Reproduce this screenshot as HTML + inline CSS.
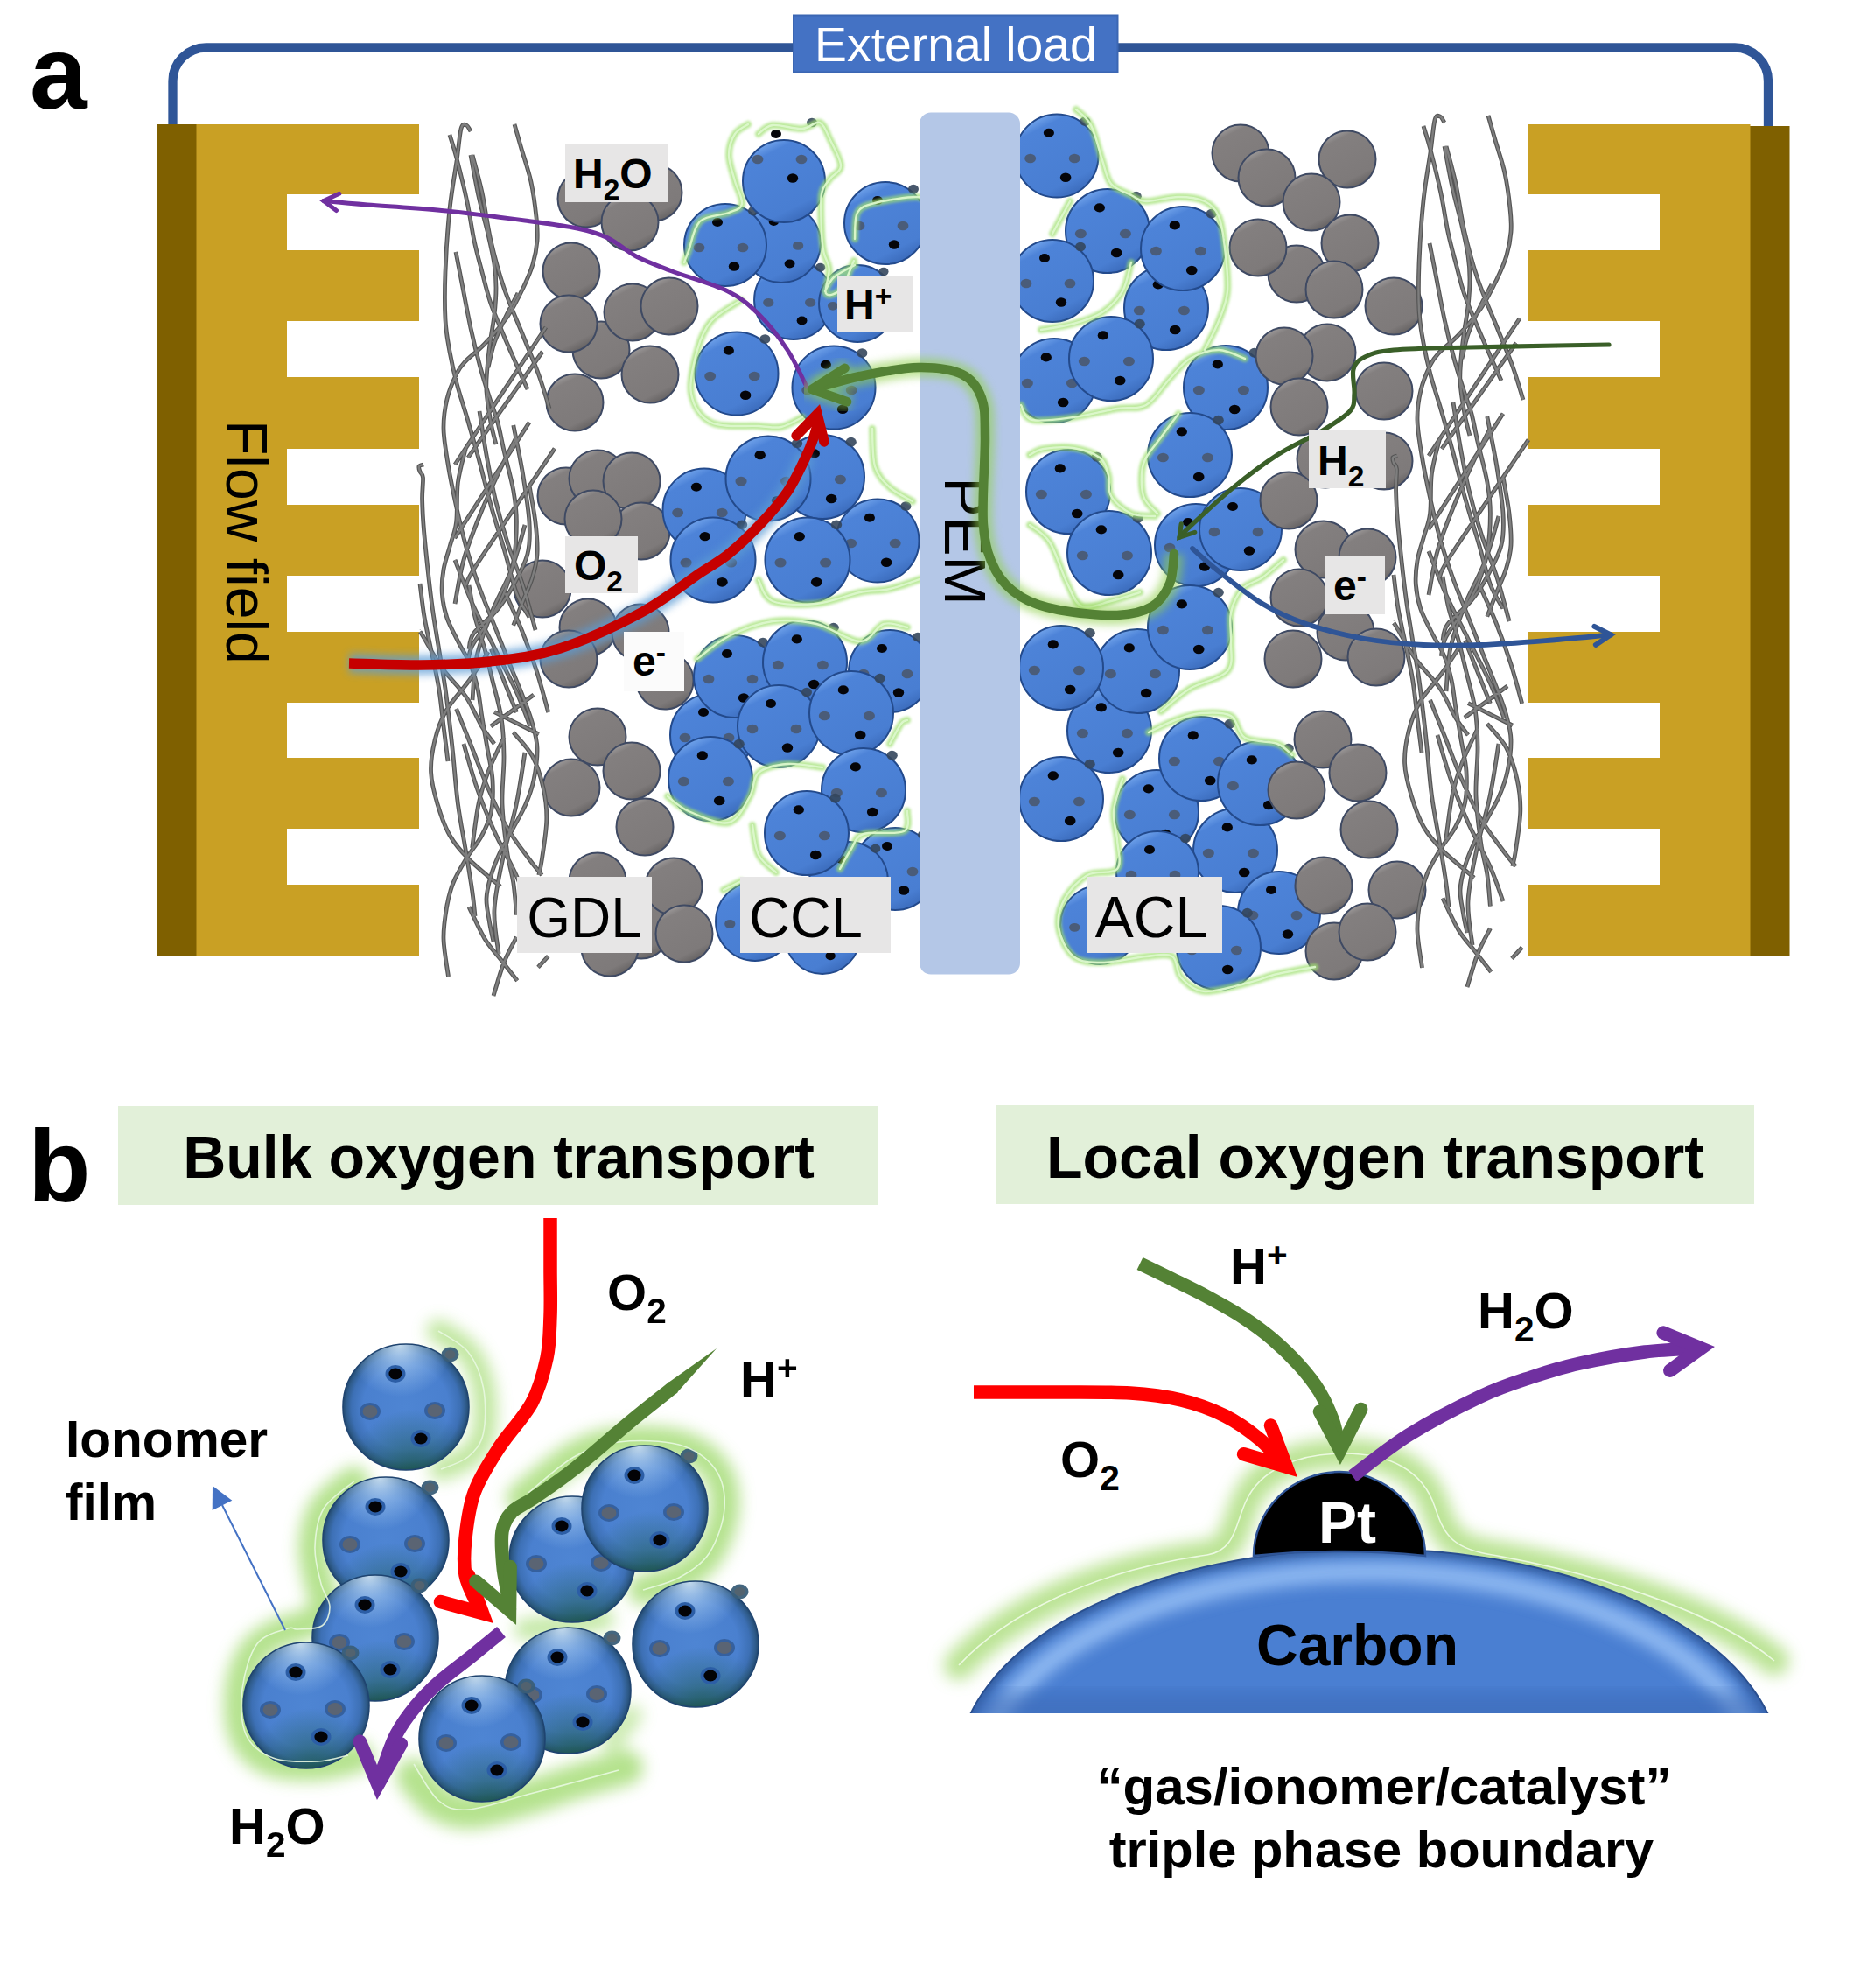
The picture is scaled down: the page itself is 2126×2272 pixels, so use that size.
<!DOCTYPE html>
<html lang="en"><head><meta charset="utf-8"><title>PEM fuel cell schematic</title>
<style>html,body{margin:0;padding:0;background:#fff}body{width:2126px;height:2272px;overflow:hidden}svg{display:block}</style>
</head><body>
<svg width="2126" height="2272" viewBox="0 0 2126 2272">
<defs>
<linearGradient id="gb" x1="0.25" y1="0" x2="0.75" y2="1">
<stop offset="0" stop-color="#7fb0f2"/><stop offset="0.16" stop-color="#4d83d8"/><stop offset="0.8" stop-color="#497ed2"/><stop offset="1" stop-color="#3766b5"/>
</linearGradient>
<linearGradient id="gg" x1="0.25" y1="0" x2="0.75" y2="1">
<stop offset="0" stop-color="#a8a5a5"/><stop offset="0.16" stop-color="#837f7f"/><stop offset="0.8" stop-color="#7e7a7a"/><stop offset="1" stop-color="#5e5b5b"/>
</linearGradient>
<radialGradient id="gs" cx="0.5" cy="0.5" r="0.5">
<stop offset="0" stop-color="#4e85d3"/><stop offset="0.68" stop-color="#4a80cf"/><stop offset="0.86" stop-color="#3d70b5"/><stop offset="0.95" stop-color="#2f5c8c"/><stop offset="1" stop-color="#234a70"/>
</radialGradient>
<radialGradient id="gsh" cx="0.45" cy="0.0" r="0.42">
<stop offset="0" stop-color="#d8ecfc" stop-opacity="0.9"/><stop offset="0.45" stop-color="#b4d6f6" stop-opacity="0.5"/><stop offset="1" stop-color="#a8d0f8" stop-opacity="0"/>
</radialGradient>
<radialGradient id="gsd" cx="0.55" cy="1.02" r="0.5">
<stop offset="0" stop-color="#1d5a48" stop-opacity="0.75"/><stop offset="0.5" stop-color="#1d5a48" stop-opacity="0.35"/><stop offset="1" stop-color="#1d5a48" stop-opacity="0"/>
</radialGradient>
<linearGradient id="gcarb" x1="0" y1="0" x2="0" y2="1">
<stop offset="0" stop-color="#7fb0f0"/><stop offset="0.12" stop-color="#5a8fdf"/><stop offset="0.3" stop-color="#4a7fd4"/><stop offset="1" stop-color="#4878cc"/>
</linearGradient>
<filter id="bl2" x="-20%" y="-20%" width="140%" height="140%"><feGaussianBlur stdDeviation="1.8"/></filter>
<filter id="bl3" x="-20%" y="-20%" width="140%" height="140%"><feGaussianBlur stdDeviation="3"/></filter>
<filter id="bl5" x="-20%" y="-20%" width="140%" height="140%"><feGaussianBlur stdDeviation="5"/></filter>
<filter id="bl9" x="-20%" y="-20%" width="140%" height="140%"><feGaussianBlur stdDeviation="9"/></filter>
<filter id="bl14" x="-20%" y="-20%" width="140%" height="140%"><feGaussianBlur stdDeviation="13"/></filter>
<g id="sbn">
<circle r="47" fill="url(#gb)" stroke="#234a8c" stroke-width="2"/>
</g>
<g id="sbd">
<ellipse cx="-9" cy="-26" rx="6" ry="5" fill="#050509"/>
<ellipse cx="10" cy="24.5" rx="6.2" ry="5.2" fill="#050509"/>
<ellipse cx="-30" cy="3" rx="6.4" ry="5.2" fill="#4a5668" fill-opacity="0.85"/>
<ellipse cx="20" cy="3" rx="6.4" ry="5.2" fill="#4a5668" fill-opacity="0.85"/>
<ellipse cx="32" cy="-39" rx="6" ry="5.2" fill="#34465c" fill-opacity="0.9"/>
</g>
<g id="sb"><use href="#sbn"/><use href="#sbd"/></g>
<g id="sg">
<circle r="32.5" fill="url(#gg)" stroke="#3f4a63" stroke-width="2"/>
</g>
<g id="ss">
<circle r="72" fill="url(#gs)"/>
<circle r="72" fill="url(#gsd)"/>
<circle r="72" fill="url(#gsh)" stroke="#1f4470" stroke-width="1.6"/>
<ellipse cx="-12" cy="-38" rx="11.5" ry="10" fill="#2c5ea6"/>
<ellipse cx="-12" cy="-38" rx="7.6" ry="6.4" fill="#030306"/>
<ellipse cx="17" cy="36" rx="11.5" ry="10" fill="#2c5ea6"/>
<ellipse cx="17" cy="36" rx="7.6" ry="6.4" fill="#030306"/>
<ellipse cx="-41" cy="5" rx="12" ry="10" fill="#35609e"/>
<ellipse cx="-41" cy="5" rx="8.5" ry="7" fill="#5a6473"/>
<ellipse cx="33" cy="4" rx="12" ry="10" fill="#35609e"/>
<ellipse cx="33" cy="4" rx="8.5" ry="7" fill="#5a6473"/>
<ellipse cx="50.5" cy="-60" rx="10" ry="8.5" fill="#3a5e78" fill-opacity="0.95"/>
<ellipse cx="50.5" cy="-60" rx="6" ry="5" fill="#55636e" fill-opacity="0.9"/>
</g>
</defs>
<path d="M197.5,146V92.5a38,38 0 0 1 38,-38H1983a38,38 0 0 1 38,38V146" fill="none" stroke="#2f5597" stroke-width="10.3"/>
<rect x="907" y="17.5" width="370.5" height="65" fill="#4472c4" stroke="#3b66b3" stroke-width="2"/>
<text x="1092.5" y="70" font-size="55.3" fill="#fff" text-anchor="middle" font-family="Liberation Sans, Arial, sans-serif">External load</text>
<rect x="179" y="142" width="46" height="950" fill="#7f6000"/>
<rect x="224.5" y="142" width="254.5" height="950" fill="#c9a024"/>
<rect x="328" y="222" width="152" height="64" fill="#fff"/>
<rect x="328" y="367" width="152" height="64" fill="#fff"/>
<rect x="328" y="513" width="152" height="64" fill="#fff"/>
<rect x="328" y="658" width="152" height="64" fill="#fff"/>
<rect x="328" y="803" width="152" height="63" fill="#fff"/>
<rect x="328" y="947" width="152" height="64" fill="#fff"/>
<rect x="2000" y="144" width="45.5" height="948" fill="#7f6000"/>
<rect x="1746" y="142" width="254.5" height="950" fill="#c9a024"/>
<rect x="1745" y="222" width="152" height="64" fill="#fff"/>
<rect x="1745" y="367" width="152" height="64" fill="#fff"/>
<rect x="1745" y="513" width="152" height="64" fill="#fff"/>
<rect x="1745" y="658" width="152" height="64" fill="#fff"/>
<rect x="1745" y="803" width="152" height="63" fill="#fff"/>
<rect x="1745" y="947" width="152" height="64" fill="#fff"/>
<text transform="translate(259,480) rotate(90)" font-size="66" fill="#000" font-family="Liberation Sans, Arial, sans-serif">Flow field</text>
<use href="#sg" x="747.0" y="220.0"/>
<use href="#sg" x="670.0" y="227.0"/>
<use href="#sg" x="720.0" y="254.0"/>
<use href="#sg" x="653.0" y="310.0"/>
<use href="#sg" x="687.0" y="400.0"/>
<use href="#sg" x="723.0" y="357.0"/>
<use href="#sg" x="765.0" y="350.0"/>
<use href="#sg" x="650.0" y="370.0"/>
<use href="#sg" x="743.0" y="428.0"/>
<use href="#sg" x="657.0" y="460.0"/>
<use href="#sg" x="647.0" y="567.0"/>
<use href="#sg" x="683.0" y="547.0"/>
<use href="#sg" x="722.0" y="550.0"/>
<use href="#sg" x="733.0" y="607.0"/>
<use href="#sg" x="678.0" y="593.0"/>
<use href="#sg" x="620.0" y="673.0"/>
<use href="#sg" x="672.0" y="717.0"/>
<use href="#sg" x="732.0" y="723.0"/>
<use href="#sg" x="650.0" y="753.0"/>
<use href="#sg" x="760.0" y="778.0"/>
<use href="#sg" x="683.0" y="842.0"/>
<use href="#sg" x="653.0" y="900.0"/>
<use href="#sg" x="722.0" y="881.0"/>
<use href="#sg" x="737.0" y="945.0"/>
<use href="#sg" x="683.0" y="1007.0"/>
<use href="#sg" x="733.0" y="1063.0"/>
<use href="#sg" x="697.0" y="1083.0"/>
<use href="#sg" x="770.0" y="1013.0"/>
<use href="#sg" x="782.0" y="1067.0"/>
<g transform="translate(0,0)" fill="none" stroke-linecap="butt">
<path d="M514.0,154.0C515.3,158.5 518.7,168.2 522.0,181.0C525.3,193.8 530.7,215.3 534.0,231.0C537.3,246.7 539.2,261.7 542.0,275.0C544.8,288.3 547.8,299.0 551.0,311.0C554.2,323.0 556.8,334.8 561.0,347.0C565.2,359.2 571.2,372.5 576.0,384.0C580.8,395.5 585.5,405.8 590.0,416.0C594.5,426.2 600.8,440.2 603.0,445.0M538.0,150.0C537.2,148.8 534.8,143.5 533.0,143.0C531.2,142.5 528.8,140.2 527.0,147.0C525.2,153.8 524.2,168.7 522.0,184.0C519.8,199.3 516.2,217.8 514.0,239.0C511.8,260.2 509.8,290.0 509.0,311.0C508.2,332.0 508.2,349.8 509.0,365.0C509.8,380.2 511.8,389.8 514.0,402.0C516.2,414.2 518.7,425.3 522.0,438.0C525.3,450.7 529.8,463.7 534.0,478.0C538.2,492.3 542.4,507.2 547.0,524.0C551.6,540.8 556.3,560.5 561.4,578.7C566.5,596.9 572.9,616.5 577.7,633.0C582.5,649.5 585.9,665.9 590.4,678.0C594.9,690.1 602.6,700.9 605.0,705.5M538.0,177.0C539.5,184.8 543.7,208.8 547.0,224.0C550.3,239.2 555.0,255.0 558.0,268.0C561.0,281.0 563.5,291.8 565.0,302.0C566.5,312.2 567.0,319.3 567.0,329.0C567.0,338.7 566.2,349.3 565.0,360.0C563.8,370.7 561.3,383.0 560.0,393.0C558.7,403.0 557.7,411.0 557.0,420.0C556.3,429.0 555.3,436.5 556.0,447.0C556.7,457.5 559.2,472.8 561.0,483.0C562.8,493.2 566.0,503.8 567.0,508.0M540.0,177.0C541.8,184.2 547.5,203.7 551.0,220.0C554.5,236.3 556.8,256.8 561.0,275.0C565.2,293.2 569.8,310.8 576.0,329.0C582.2,347.2 591.3,367.3 598.0,384.0C604.7,400.7 611.0,415.2 616.0,429.0C621.0,442.8 626.0,460.7 628.0,467.0M588.0,142.0C589.3,146.7 592.8,159.0 596.0,170.0C599.2,181.0 604.2,195.0 607.0,208.0C609.8,221.0 611.8,236.8 613.0,248.0C614.2,259.2 614.7,266.0 614.0,275.0C613.3,284.0 611.7,293.0 609.0,302.0C606.3,311.0 602.8,319.0 598.0,329.0C593.2,339.0 587.3,351.3 580.0,362.0C572.7,372.7 562.0,384.5 554.0,393.0C546.0,401.5 537.3,407.3 532.0,413.0C526.7,418.7 525.5,419.8 522.0,427.0C518.5,434.2 513.5,445.5 511.0,456.0C508.5,466.5 506.8,477.2 507.0,490.0C507.2,502.8 510.1,518.2 512.5,533.0C514.9,547.8 518.3,563.8 521.6,579.0C524.9,594.2 528.3,609.0 532.5,624.0C536.7,639.0 541.6,653.9 547.0,669.0C552.4,684.1 559.0,699.4 565.0,714.6C571.0,729.8 577.5,746.4 583.0,760.0C588.5,773.6 593.5,785.2 597.7,796.0C601.9,806.8 605.3,815.2 608.0,825.0C610.7,834.8 613.7,843.9 614.0,855.0C614.3,866.1 612.2,880.9 610.0,891.5C607.8,902.1 604.9,909.6 601.0,918.7C597.1,927.8 591.6,936.9 586.8,945.9C582.0,954.9 576.2,964.0 572.0,973.0C567.8,982.0 564.1,991.0 561.4,1000.0C558.7,1009.0 556.3,1017.9 556.0,1027.0C555.7,1036.1 558.3,1046.3 559.6,1054.5C560.9,1062.7 563.3,1072.4 564.0,1076.0M521.0,288.0C522.3,294.8 526.2,314.5 529.0,329.0C531.8,343.5 534.7,359.8 538.0,375.0C541.3,390.2 545.3,406.5 549.0,420.0C552.7,433.5 556.7,445.7 560.0,456.0C563.3,466.3 566.0,472.2 568.7,482.0C571.4,491.8 573.0,501.9 576.0,515.0C579.0,528.1 584.4,547.0 586.8,560.6C589.2,574.2 590.4,583.2 590.4,596.8C590.4,610.4 589.2,628.5 586.8,642.0C584.4,655.5 580.2,667.4 576.0,678.0C571.8,688.6 567.4,695.5 561.4,705.5C555.4,715.5 544.2,728.9 539.7,738.0C535.2,747.1 535.2,756.3 534.3,760.0M592.0,335.0C589.7,339.5 582.5,352.5 578.0,362.0C573.5,371.5 568.3,382.3 565.0,392.0C561.7,401.7 559.2,415.3 558.0,420.0M624.0,374.0C611.2,393.3 564.3,463.8 547.0,490.0C529.7,516.2 524.5,524.2 520.0,531.0M620.0,402.0C609.7,416.7 572.2,469.8 558.0,490.0C543.8,510.2 538.8,517.5 535.0,523.0M484.0,531.0C483.2,531.3 479.7,531.7 479.0,533.0C478.3,534.3 479.2,536.8 480.0,539.0C480.8,541.2 483.1,540.7 483.5,546.0C483.9,551.3 482.4,561.0 482.6,571.0C482.8,581.0 483.4,592.7 484.5,606.0C485.6,619.3 487.4,636.0 489.0,651.0C490.6,666.0 492.3,680.8 494.4,696.0C496.5,711.2 499.3,726.8 501.7,742.0C504.1,757.2 506.9,772.3 509.0,787.0C511.1,801.7 512.8,817.2 514.3,830.0C515.8,842.8 516.5,849.2 518.0,864.0C519.5,878.8 521.0,900.5 523.4,918.7C525.8,936.9 529.8,956.5 532.5,973.0C535.2,989.5 538.0,1005.7 539.7,1018.0C541.5,1030.3 542.5,1042.2 543.0,1047.0M480.0,667.0C480.8,673.3 482.9,692.5 485.0,705.0C487.1,717.5 489.8,728.3 492.6,742.0C495.4,755.7 499.3,772.3 501.7,787.0C504.1,801.7 505.3,816.2 507.0,830.0C508.7,843.8 511.2,863.3 512.0,870.0M480.0,722.0C480.6,722.8 479.3,720.2 483.5,727.0C487.7,733.8 496.8,751.5 505.0,763.0C513.2,774.5 524.9,784.8 532.5,796.0C540.1,807.2 545.2,821.0 550.6,830.0C556.0,839.0 562.6,846.7 565.0,850.0M532.5,511.7C531.0,518.3 525.2,537.3 523.4,551.5C521.6,565.7 523.1,584.7 521.6,596.8C520.1,608.9 516.7,615.0 514.3,624.0C511.9,633.0 508.5,642.0 507.0,651.0C505.5,660.0 504.7,668.9 505.3,678.0C505.9,687.1 507.7,696.4 510.7,705.5C513.7,714.6 518.9,723.6 523.4,732.7C527.9,741.8 534.1,750.9 537.9,759.9C541.7,768.9 543.8,777.0 546.0,787.0C548.2,797.0 549.2,808.7 551.0,820.0C552.8,831.3 555.0,843.1 557.0,855.0C559.0,866.9 562.3,879.4 563.0,891.5C563.7,903.6 563.5,917.2 561.4,927.8C559.3,938.4 555.4,946.0 550.6,955.0C545.8,964.0 537.9,973.0 532.5,982.0C527.1,991.0 521.6,1000.0 518.0,1009.0C514.4,1018.0 512.5,1025.4 510.7,1036.0C508.9,1046.6 506.7,1059.4 507.0,1072.7C507.3,1086.0 511.6,1108.8 512.5,1116.0M605.0,555.0C606.2,562.0 610.5,584.0 612.0,597.0C613.5,610.0 614.6,622.5 614.0,633.0C613.4,643.5 611.2,651.0 608.5,660.0C605.8,669.0 601.3,677.9 597.7,687.0C594.1,696.1 588.6,710.0 586.8,714.6M605.0,482.7C590.8,504.8 534.0,593.0 519.8,615.0M634.0,512.6C619.5,534.2 563.9,615.9 547.0,642.0C530.1,668.1 534.9,664.5 532.5,669.0M586.8,486.0C588.6,495.4 594.7,524.0 597.7,542.5C600.7,561.0 604.1,581.9 605.0,597.0C605.9,612.1 606.0,621.0 603.0,633.0C600.0,645.0 592.5,658.4 586.8,669.0C581.1,679.6 576.2,687.3 568.7,696.4C561.2,705.5 547.0,716.0 541.5,723.6C536.0,731.2 536.9,738.9 536.0,742.0M577.7,678.0C581.0,685.6 591.7,708.4 597.7,723.6C603.8,738.8 609.2,753.9 614.0,769.0C618.8,784.1 624.6,806.5 626.7,814.0M536.0,669.0C537.2,675.1 540.0,693.4 543.0,705.5C546.0,717.6 550.7,729.6 554.0,741.7C557.3,753.8 559.8,765.0 563.0,778.0C566.2,791.0 570.8,805.7 573.0,820.0C575.2,834.3 575.8,847.5 576.0,864.0C576.2,880.5 573.4,900.5 574.0,918.7C574.6,936.9 577.5,958.0 579.6,973.0C581.7,988.0 585.0,996.9 586.8,1009.0C588.6,1021.1 589.8,1039.4 590.4,1045.5M561.4,741.7C563.8,747.8 571.2,766.0 576.0,778.0C580.8,790.0 588.0,808.0 590.4,814.0M610.0,794.0C601.8,800.0 569.2,824.0 561.0,830.0M548.0,470.0C549.3,478.3 553.0,503.3 556.0,520.0C559.0,536.7 562.0,553.3 566.0,570.0C570.0,586.7 574.7,603.3 580.0,620.0C585.3,636.7 592.7,653.3 598.0,670.0C603.3,686.7 609.7,711.7 612.0,720.0M590.0,500.0C586.7,506.7 577.0,525.0 570.0,540.0C563.0,555.0 554.7,573.3 548.0,590.0C541.3,606.7 534.7,623.3 530.0,640.0C525.3,656.7 521.7,681.7 520.0,690.0M600.0,600.0C597.5,608.3 591.3,633.3 585.0,650.0C578.7,666.7 568.7,683.3 562.0,700.0C555.3,716.7 548.7,733.3 545.0,750.0C541.3,766.7 540.8,791.7 540.0,800.0M520.0,640.0C523.3,648.3 532.5,673.3 540.0,690.0C547.5,706.7 556.7,723.3 565.0,740.0C573.3,756.7 583.2,775.0 590.0,790.0C596.8,805.0 603.3,823.3 606.0,830.0M530.0,850.0C532.5,858.3 539.2,883.3 545.0,900.0C550.8,916.7 557.5,933.3 565.0,950.0C572.5,966.7 583.3,985.0 590.0,1000.0C596.7,1015.0 602.5,1033.3 605.0,1040.0M600.0,860.0C598.3,870.0 594.2,900.0 590.0,920.0C585.8,940.0 579.2,960.0 575.0,980.0C570.8,1000.0 565.8,1021.7 565.0,1040.0C564.2,1058.3 569.2,1081.7 570.0,1090.0M558.0,745.0C554.3,750.5 544.0,766.8 536.0,778.0C528.0,789.2 516.5,800.7 510.0,812.0C503.5,823.3 499.9,834.2 497.0,846.0C494.1,857.8 492.1,870.4 492.6,882.5C493.1,894.6 496.4,906.6 500.0,918.7C503.6,930.8 508.3,944.5 514.3,955.0C520.3,965.5 526.4,972.3 536.0,982.0C545.6,991.7 566.0,1007.8 572.0,1013.0M521.6,810.0C524.6,817.5 533.7,839.9 539.7,855.0C545.7,870.1 551.1,885.5 557.8,900.6C564.4,915.8 571.7,932.3 579.6,945.9C587.5,959.5 598.4,973.0 605.0,982.0C611.6,991.0 617.0,997.0 619.4,1000.0M586.8,837.0C590.4,841.5 602.8,853.4 608.5,864.0C614.2,874.6 618.3,888.5 621.0,900.6C623.7,912.7 625.1,923.2 624.8,936.8C624.5,950.4 620.9,971.5 619.4,982.0C617.9,992.5 616.4,997.0 615.8,1000.0M576.0,842.6C573.0,849.2 562.6,869.8 557.8,882.5C553.0,895.2 550.0,904.3 547.0,918.7C544.0,933.1 540.9,960.6 539.7,969.0M590.4,1070.9C588.0,1075.8 580.4,1088.8 576.0,1100.0C571.6,1111.2 566.0,1131.7 564.0,1138.0M536.0,1036.4C539.0,1042.5 548.0,1062.8 554.0,1072.7C560.0,1082.6 565.8,1088.0 572.0,1096.0C578.2,1104.0 588.1,1116.6 591.3,1120.7M626.7,1092.6C624.8,1094.7 617.0,1103.2 615.0,1105.3M565.0,813.6C573.5,817.8 607.3,834.8 615.8,839.0" stroke="#555" stroke-width="4.8"/>
<path d="M514.0,154.0C515.3,158.5 518.7,168.2 522.0,181.0C525.3,193.8 530.7,215.3 534.0,231.0C537.3,246.7 539.2,261.7 542.0,275.0C544.8,288.3 547.8,299.0 551.0,311.0C554.2,323.0 556.8,334.8 561.0,347.0C565.2,359.2 571.2,372.5 576.0,384.0C580.8,395.5 585.5,405.8 590.0,416.0C594.5,426.2 600.8,440.2 603.0,445.0M538.0,150.0C537.2,148.8 534.8,143.5 533.0,143.0C531.2,142.5 528.8,140.2 527.0,147.0C525.2,153.8 524.2,168.7 522.0,184.0C519.8,199.3 516.2,217.8 514.0,239.0C511.8,260.2 509.8,290.0 509.0,311.0C508.2,332.0 508.2,349.8 509.0,365.0C509.8,380.2 511.8,389.8 514.0,402.0C516.2,414.2 518.7,425.3 522.0,438.0C525.3,450.7 529.8,463.7 534.0,478.0C538.2,492.3 542.4,507.2 547.0,524.0C551.6,540.8 556.3,560.5 561.4,578.7C566.5,596.9 572.9,616.5 577.7,633.0C582.5,649.5 585.9,665.9 590.4,678.0C594.9,690.1 602.6,700.9 605.0,705.5M538.0,177.0C539.5,184.8 543.7,208.8 547.0,224.0C550.3,239.2 555.0,255.0 558.0,268.0C561.0,281.0 563.5,291.8 565.0,302.0C566.5,312.2 567.0,319.3 567.0,329.0C567.0,338.7 566.2,349.3 565.0,360.0C563.8,370.7 561.3,383.0 560.0,393.0C558.7,403.0 557.7,411.0 557.0,420.0C556.3,429.0 555.3,436.5 556.0,447.0C556.7,457.5 559.2,472.8 561.0,483.0C562.8,493.2 566.0,503.8 567.0,508.0M540.0,177.0C541.8,184.2 547.5,203.7 551.0,220.0C554.5,236.3 556.8,256.8 561.0,275.0C565.2,293.2 569.8,310.8 576.0,329.0C582.2,347.2 591.3,367.3 598.0,384.0C604.7,400.7 611.0,415.2 616.0,429.0C621.0,442.8 626.0,460.7 628.0,467.0M588.0,142.0C589.3,146.7 592.8,159.0 596.0,170.0C599.2,181.0 604.2,195.0 607.0,208.0C609.8,221.0 611.8,236.8 613.0,248.0C614.2,259.2 614.7,266.0 614.0,275.0C613.3,284.0 611.7,293.0 609.0,302.0C606.3,311.0 602.8,319.0 598.0,329.0C593.2,339.0 587.3,351.3 580.0,362.0C572.7,372.7 562.0,384.5 554.0,393.0C546.0,401.5 537.3,407.3 532.0,413.0C526.7,418.7 525.5,419.8 522.0,427.0C518.5,434.2 513.5,445.5 511.0,456.0C508.5,466.5 506.8,477.2 507.0,490.0C507.2,502.8 510.1,518.2 512.5,533.0C514.9,547.8 518.3,563.8 521.6,579.0C524.9,594.2 528.3,609.0 532.5,624.0C536.7,639.0 541.6,653.9 547.0,669.0C552.4,684.1 559.0,699.4 565.0,714.6C571.0,729.8 577.5,746.4 583.0,760.0C588.5,773.6 593.5,785.2 597.7,796.0C601.9,806.8 605.3,815.2 608.0,825.0C610.7,834.8 613.7,843.9 614.0,855.0C614.3,866.1 612.2,880.9 610.0,891.5C607.8,902.1 604.9,909.6 601.0,918.7C597.1,927.8 591.6,936.9 586.8,945.9C582.0,954.9 576.2,964.0 572.0,973.0C567.8,982.0 564.1,991.0 561.4,1000.0C558.7,1009.0 556.3,1017.9 556.0,1027.0C555.7,1036.1 558.3,1046.3 559.6,1054.5C560.9,1062.7 563.3,1072.4 564.0,1076.0M521.0,288.0C522.3,294.8 526.2,314.5 529.0,329.0C531.8,343.5 534.7,359.8 538.0,375.0C541.3,390.2 545.3,406.5 549.0,420.0C552.7,433.5 556.7,445.7 560.0,456.0C563.3,466.3 566.0,472.2 568.7,482.0C571.4,491.8 573.0,501.9 576.0,515.0C579.0,528.1 584.4,547.0 586.8,560.6C589.2,574.2 590.4,583.2 590.4,596.8C590.4,610.4 589.2,628.5 586.8,642.0C584.4,655.5 580.2,667.4 576.0,678.0C571.8,688.6 567.4,695.5 561.4,705.5C555.4,715.5 544.2,728.9 539.7,738.0C535.2,747.1 535.2,756.3 534.3,760.0M592.0,335.0C589.7,339.5 582.5,352.5 578.0,362.0C573.5,371.5 568.3,382.3 565.0,392.0C561.7,401.7 559.2,415.3 558.0,420.0M624.0,374.0C611.2,393.3 564.3,463.8 547.0,490.0C529.7,516.2 524.5,524.2 520.0,531.0M620.0,402.0C609.7,416.7 572.2,469.8 558.0,490.0C543.8,510.2 538.8,517.5 535.0,523.0M484.0,531.0C483.2,531.3 479.7,531.7 479.0,533.0C478.3,534.3 479.2,536.8 480.0,539.0C480.8,541.2 483.1,540.7 483.5,546.0C483.9,551.3 482.4,561.0 482.6,571.0C482.8,581.0 483.4,592.7 484.5,606.0C485.6,619.3 487.4,636.0 489.0,651.0C490.6,666.0 492.3,680.8 494.4,696.0C496.5,711.2 499.3,726.8 501.7,742.0C504.1,757.2 506.9,772.3 509.0,787.0C511.1,801.7 512.8,817.2 514.3,830.0C515.8,842.8 516.5,849.2 518.0,864.0C519.5,878.8 521.0,900.5 523.4,918.7C525.8,936.9 529.8,956.5 532.5,973.0C535.2,989.5 538.0,1005.7 539.7,1018.0C541.5,1030.3 542.5,1042.2 543.0,1047.0M480.0,667.0C480.8,673.3 482.9,692.5 485.0,705.0C487.1,717.5 489.8,728.3 492.6,742.0C495.4,755.7 499.3,772.3 501.7,787.0C504.1,801.7 505.3,816.2 507.0,830.0C508.7,843.8 511.2,863.3 512.0,870.0M480.0,722.0C480.6,722.8 479.3,720.2 483.5,727.0C487.7,733.8 496.8,751.5 505.0,763.0C513.2,774.5 524.9,784.8 532.5,796.0C540.1,807.2 545.2,821.0 550.6,830.0C556.0,839.0 562.6,846.7 565.0,850.0M532.5,511.7C531.0,518.3 525.2,537.3 523.4,551.5C521.6,565.7 523.1,584.7 521.6,596.8C520.1,608.9 516.7,615.0 514.3,624.0C511.9,633.0 508.5,642.0 507.0,651.0C505.5,660.0 504.7,668.9 505.3,678.0C505.9,687.1 507.7,696.4 510.7,705.5C513.7,714.6 518.9,723.6 523.4,732.7C527.9,741.8 534.1,750.9 537.9,759.9C541.7,768.9 543.8,777.0 546.0,787.0C548.2,797.0 549.2,808.7 551.0,820.0C552.8,831.3 555.0,843.1 557.0,855.0C559.0,866.9 562.3,879.4 563.0,891.5C563.7,903.6 563.5,917.2 561.4,927.8C559.3,938.4 555.4,946.0 550.6,955.0C545.8,964.0 537.9,973.0 532.5,982.0C527.1,991.0 521.6,1000.0 518.0,1009.0C514.4,1018.0 512.5,1025.4 510.7,1036.0C508.9,1046.6 506.7,1059.4 507.0,1072.7C507.3,1086.0 511.6,1108.8 512.5,1116.0M605.0,555.0C606.2,562.0 610.5,584.0 612.0,597.0C613.5,610.0 614.6,622.5 614.0,633.0C613.4,643.5 611.2,651.0 608.5,660.0C605.8,669.0 601.3,677.9 597.7,687.0C594.1,696.1 588.6,710.0 586.8,714.6M605.0,482.7C590.8,504.8 534.0,593.0 519.8,615.0M634.0,512.6C619.5,534.2 563.9,615.9 547.0,642.0C530.1,668.1 534.9,664.5 532.5,669.0M586.8,486.0C588.6,495.4 594.7,524.0 597.7,542.5C600.7,561.0 604.1,581.9 605.0,597.0C605.9,612.1 606.0,621.0 603.0,633.0C600.0,645.0 592.5,658.4 586.8,669.0C581.1,679.6 576.2,687.3 568.7,696.4C561.2,705.5 547.0,716.0 541.5,723.6C536.0,731.2 536.9,738.9 536.0,742.0M577.7,678.0C581.0,685.6 591.7,708.4 597.7,723.6C603.8,738.8 609.2,753.9 614.0,769.0C618.8,784.1 624.6,806.5 626.7,814.0M536.0,669.0C537.2,675.1 540.0,693.4 543.0,705.5C546.0,717.6 550.7,729.6 554.0,741.7C557.3,753.8 559.8,765.0 563.0,778.0C566.2,791.0 570.8,805.7 573.0,820.0C575.2,834.3 575.8,847.5 576.0,864.0C576.2,880.5 573.4,900.5 574.0,918.7C574.6,936.9 577.5,958.0 579.6,973.0C581.7,988.0 585.0,996.9 586.8,1009.0C588.6,1021.1 589.8,1039.4 590.4,1045.5M561.4,741.7C563.8,747.8 571.2,766.0 576.0,778.0C580.8,790.0 588.0,808.0 590.4,814.0M610.0,794.0C601.8,800.0 569.2,824.0 561.0,830.0M548.0,470.0C549.3,478.3 553.0,503.3 556.0,520.0C559.0,536.7 562.0,553.3 566.0,570.0C570.0,586.7 574.7,603.3 580.0,620.0C585.3,636.7 592.7,653.3 598.0,670.0C603.3,686.7 609.7,711.7 612.0,720.0M590.0,500.0C586.7,506.7 577.0,525.0 570.0,540.0C563.0,555.0 554.7,573.3 548.0,590.0C541.3,606.7 534.7,623.3 530.0,640.0C525.3,656.7 521.7,681.7 520.0,690.0M600.0,600.0C597.5,608.3 591.3,633.3 585.0,650.0C578.7,666.7 568.7,683.3 562.0,700.0C555.3,716.7 548.7,733.3 545.0,750.0C541.3,766.7 540.8,791.7 540.0,800.0M520.0,640.0C523.3,648.3 532.5,673.3 540.0,690.0C547.5,706.7 556.7,723.3 565.0,740.0C573.3,756.7 583.2,775.0 590.0,790.0C596.8,805.0 603.3,823.3 606.0,830.0M530.0,850.0C532.5,858.3 539.2,883.3 545.0,900.0C550.8,916.7 557.5,933.3 565.0,950.0C572.5,966.7 583.3,985.0 590.0,1000.0C596.7,1015.0 602.5,1033.3 605.0,1040.0M600.0,860.0C598.3,870.0 594.2,900.0 590.0,920.0C585.8,940.0 579.2,960.0 575.0,980.0C570.8,1000.0 565.8,1021.7 565.0,1040.0C564.2,1058.3 569.2,1081.7 570.0,1090.0M558.0,745.0C554.3,750.5 544.0,766.8 536.0,778.0C528.0,789.2 516.5,800.7 510.0,812.0C503.5,823.3 499.9,834.2 497.0,846.0C494.1,857.8 492.1,870.4 492.6,882.5C493.1,894.6 496.4,906.6 500.0,918.7C503.6,930.8 508.3,944.5 514.3,955.0C520.3,965.5 526.4,972.3 536.0,982.0C545.6,991.7 566.0,1007.8 572.0,1013.0M521.6,810.0C524.6,817.5 533.7,839.9 539.7,855.0C545.7,870.1 551.1,885.5 557.8,900.6C564.4,915.8 571.7,932.3 579.6,945.9C587.5,959.5 598.4,973.0 605.0,982.0C611.6,991.0 617.0,997.0 619.4,1000.0M586.8,837.0C590.4,841.5 602.8,853.4 608.5,864.0C614.2,874.6 618.3,888.5 621.0,900.6C623.7,912.7 625.1,923.2 624.8,936.8C624.5,950.4 620.9,971.5 619.4,982.0C617.9,992.5 616.4,997.0 615.8,1000.0M576.0,842.6C573.0,849.2 562.6,869.8 557.8,882.5C553.0,895.2 550.0,904.3 547.0,918.7C544.0,933.1 540.9,960.6 539.7,969.0M590.4,1070.9C588.0,1075.8 580.4,1088.8 576.0,1100.0C571.6,1111.2 566.0,1131.7 564.0,1138.0M536.0,1036.4C539.0,1042.5 548.0,1062.8 554.0,1072.7C560.0,1082.6 565.8,1088.0 572.0,1096.0C578.2,1104.0 588.1,1116.6 591.3,1120.7M626.7,1092.6C624.8,1094.7 617.0,1103.2 615.0,1105.3M565.0,813.6C573.5,817.8 607.3,834.8 615.8,839.0" stroke="#7e7e7e" stroke-width="2.4"/>
</g>
<use href="#sb" transform="translate(907.0,343.0) scale(0.957)"/>
<use href="#sb" transform="translate(893.0,278.0) scale(0.957)"/>
<use href="#sb" transform="translate(980.0,347.0) scale(0.936)"/>
<use href="#sb" x="829.0" y="280.0"/>
<use href="#sbn" x="896.0" y="207.0"/>
<use href="#sbd" transform="translate(896.0,179.0) scale(1.000)"/>
<use href="#sb" x="1012.0" y="255.0"/>
<use href="#sb" transform="translate(842.0,427.0) scale(1.011)"/>
<use href="#sb" transform="translate(953.0,443.0) scale(1.011)"/>
<use href="#sb" transform="translate(805.0,583.0) scale(1.011)"/>
<use href="#sb" transform="translate(940.0,545.0) scale(1.021)"/>
<use href="#sb" transform="translate(878.0,547.0) scale(1.032)"/>
<use href="#sb" transform="translate(1003.0,618.0) scale(1.011)"/>
<use href="#sb" transform="translate(815.0,640.0) scale(1.032)"/>
<use href="#sb" transform="translate(923.0,640.0) scale(1.032)"/>
<use href="#sb" x="813.0" y="840.0"/>
<use href="#sb" x="1017.0" y="767.0"/>
<use href="#sb" x="840.0" y="773.0"/>
<use href="#sb" transform="translate(920.0,757.0) scale(1.021)"/>
<use href="#sb" x="890.0" y="830.0"/>
<use href="#sb" transform="translate(973.0,815.0) scale(1.021)"/>
<use href="#sb" transform="translate(812.0,890.0) scale(1.021)"/>
<use href="#sb" x="1023.0" y="993.0"/>
<use href="#sb" transform="translate(970.0,1007.0) scale(0.957)"/>
<use href="#sb" transform="translate(987.0,903.0) scale(1.021)"/>
<use href="#sb" transform="translate(922.0,952.0) scale(1.021)"/>
<use href="#sb" transform="translate(940.0,1070.0) scale(0.915)"/>
<use href="#sb" transform="translate(863.0,1053.0) scale(0.957)"/>
<use href="#sb" transform="translate(1208.0,178.0) scale(1.011)"/>
<use href="#sb" transform="translate(1266.0,264.0) scale(1.021)"/>
<use href="#sb" transform="translate(1333.0,352.0) scale(1.021)"/>
<use href="#sb" transform="translate(1352.0,284.0) scale(1.021)"/>
<use href="#sb" x="1203.0" y="321.0"/>
<use href="#sb" transform="translate(1205.0,435.0) scale(1.021)"/>
<use href="#sb" transform="translate(1270.0,410.0) scale(1.021)"/>
<use href="#sb" transform="translate(1401.0,443.0) scale(1.021)"/>
<use href="#sb" transform="translate(1360.0,520.0) scale(1.021)"/>
<use href="#sb" transform="translate(1221.0,562.0) scale(1.021)"/>
<use href="#sb" transform="translate(1268.0,632.0) scale(1.021)"/>
<use href="#sb" x="1367.0" y="623.0"/>
<use href="#sb" x="1418.0" y="605.0"/>
<use href="#sb" transform="translate(1268.0,835.0) scale(1.021)"/>
<use href="#sb" transform="translate(1300.0,767.0) scale(1.021)"/>
<use href="#sb" transform="translate(1213.0,763.0) scale(1.021)"/>
<use href="#sb" transform="translate(1360.0,717.0) scale(1.021)"/>
<use href="#sb" transform="translate(1213.0,913.0) scale(1.021)"/>
<use href="#sb" transform="translate(1322.0,928.0) scale(1.021)"/>
<use href="#sb" transform="translate(1373.0,867.0) scale(1.021)"/>
<use href="#sb" transform="translate(1412.0,972.0) scale(1.021)"/>
<use href="#sb" transform="translate(1440.0,895.0) scale(1.021)"/>
<use href="#sb" x="1323.0" y="997.0"/>
<use href="#sb" transform="translate(1257.0,1057.0) scale(0.957)"/>
<use href="#sb" x="1462.0" y="1043.0"/>
<use href="#sb" transform="translate(1393.0,1083.0) scale(1.021)"/>
<use href="#sg" x="1418.0" y="175.0"/>
<use href="#sg" x="1448.0" y="203.0"/>
<use href="#sg" x="1540.0" y="182.0"/>
<use href="#sg" x="1499.0" y="231.0"/>
<use href="#sg" x="1543.0" y="278.0"/>
<use href="#sg" x="1482.0" y="313.0"/>
<use href="#sg" x="1438.0" y="283.0"/>
<use href="#sg" x="1525.0" y="331.0"/>
<use href="#sg" x="1593.0" y="350.0"/>
<use href="#sg" x="1517.0" y="403.0"/>
<use href="#sg" x="1468.0" y="407.0"/>
<use href="#sg" x="1582.0" y="447.0"/>
<use href="#sg" x="1485.0" y="465.0"/>
<use href="#sg" x="1515.0" y="525.0"/>
<use href="#sg" x="1582.0" y="527.0"/>
<use href="#sg" x="1473.0" y="572.0"/>
<use href="#sg" x="1513.0" y="628.0"/>
<use href="#sg" x="1563.0" y="637.0"/>
<use href="#sg" x="1485.0" y="683.0"/>
<use href="#sg" x="1538.0" y="722.0"/>
<use href="#sg" x="1478.0" y="753.0"/>
<use href="#sg" x="1573.0" y="751.0"/>
<use href="#sg" x="1512.0" y="845.0"/>
<use href="#sg" x="1552.0" y="883.0"/>
<use href="#sg" x="1482.0" y="903.0"/>
<use href="#sg" x="1565.0" y="948.0"/>
<use href="#sg" x="1513.0" y="1012.0"/>
<use href="#sg" x="1597.0" y="1017.0"/>
<use href="#sg" x="1525.0" y="1087.0"/>
<use href="#sg" x="1563.0" y="1065.0"/>
<g transform="translate(1113,-10)" fill="none" stroke-linecap="butt">
<path d="M514.0,154.0C515.3,158.5 518.7,168.2 522.0,181.0C525.3,193.8 530.7,215.3 534.0,231.0C537.3,246.7 539.2,261.7 542.0,275.0C544.8,288.3 547.8,299.0 551.0,311.0C554.2,323.0 556.8,334.8 561.0,347.0C565.2,359.2 571.2,372.5 576.0,384.0C580.8,395.5 585.5,405.8 590.0,416.0C594.5,426.2 600.8,440.2 603.0,445.0M538.0,150.0C537.2,148.8 534.8,143.5 533.0,143.0C531.2,142.5 528.8,140.2 527.0,147.0C525.2,153.8 524.2,168.7 522.0,184.0C519.8,199.3 516.2,217.8 514.0,239.0C511.8,260.2 509.8,290.0 509.0,311.0C508.2,332.0 508.2,349.8 509.0,365.0C509.8,380.2 511.8,389.8 514.0,402.0C516.2,414.2 518.7,425.3 522.0,438.0C525.3,450.7 529.8,463.7 534.0,478.0C538.2,492.3 542.4,507.2 547.0,524.0C551.6,540.8 556.3,560.5 561.4,578.7C566.5,596.9 572.9,616.5 577.7,633.0C582.5,649.5 585.9,665.9 590.4,678.0C594.9,690.1 602.6,700.9 605.0,705.5M538.0,177.0C539.5,184.8 543.7,208.8 547.0,224.0C550.3,239.2 555.0,255.0 558.0,268.0C561.0,281.0 563.5,291.8 565.0,302.0C566.5,312.2 567.0,319.3 567.0,329.0C567.0,338.7 566.2,349.3 565.0,360.0C563.8,370.7 561.3,383.0 560.0,393.0C558.7,403.0 557.7,411.0 557.0,420.0C556.3,429.0 555.3,436.5 556.0,447.0C556.7,457.5 559.2,472.8 561.0,483.0C562.8,493.2 566.0,503.8 567.0,508.0M540.0,177.0C541.8,184.2 547.5,203.7 551.0,220.0C554.5,236.3 556.8,256.8 561.0,275.0C565.2,293.2 569.8,310.8 576.0,329.0C582.2,347.2 591.3,367.3 598.0,384.0C604.7,400.7 611.0,415.2 616.0,429.0C621.0,442.8 626.0,460.7 628.0,467.0M588.0,142.0C589.3,146.7 592.8,159.0 596.0,170.0C599.2,181.0 604.2,195.0 607.0,208.0C609.8,221.0 611.8,236.8 613.0,248.0C614.2,259.2 614.7,266.0 614.0,275.0C613.3,284.0 611.7,293.0 609.0,302.0C606.3,311.0 602.8,319.0 598.0,329.0C593.2,339.0 587.3,351.3 580.0,362.0C572.7,372.7 562.0,384.5 554.0,393.0C546.0,401.5 537.3,407.3 532.0,413.0C526.7,418.7 525.5,419.8 522.0,427.0C518.5,434.2 513.5,445.5 511.0,456.0C508.5,466.5 506.8,477.2 507.0,490.0C507.2,502.8 510.1,518.2 512.5,533.0C514.9,547.8 518.3,563.8 521.6,579.0C524.9,594.2 528.3,609.0 532.5,624.0C536.7,639.0 541.6,653.9 547.0,669.0C552.4,684.1 559.0,699.4 565.0,714.6C571.0,729.8 577.5,746.4 583.0,760.0C588.5,773.6 593.5,785.2 597.7,796.0C601.9,806.8 605.3,815.2 608.0,825.0C610.7,834.8 613.7,843.9 614.0,855.0C614.3,866.1 612.2,880.9 610.0,891.5C607.8,902.1 604.9,909.6 601.0,918.7C597.1,927.8 591.6,936.9 586.8,945.9C582.0,954.9 576.2,964.0 572.0,973.0C567.8,982.0 564.1,991.0 561.4,1000.0C558.7,1009.0 556.3,1017.9 556.0,1027.0C555.7,1036.1 558.3,1046.3 559.6,1054.5C560.9,1062.7 563.3,1072.4 564.0,1076.0M521.0,288.0C522.3,294.8 526.2,314.5 529.0,329.0C531.8,343.5 534.7,359.8 538.0,375.0C541.3,390.2 545.3,406.5 549.0,420.0C552.7,433.5 556.7,445.7 560.0,456.0C563.3,466.3 566.0,472.2 568.7,482.0C571.4,491.8 573.0,501.9 576.0,515.0C579.0,528.1 584.4,547.0 586.8,560.6C589.2,574.2 590.4,583.2 590.4,596.8C590.4,610.4 589.2,628.5 586.8,642.0C584.4,655.5 580.2,667.4 576.0,678.0C571.8,688.6 567.4,695.5 561.4,705.5C555.4,715.5 544.2,728.9 539.7,738.0C535.2,747.1 535.2,756.3 534.3,760.0M592.0,335.0C589.7,339.5 582.5,352.5 578.0,362.0C573.5,371.5 568.3,382.3 565.0,392.0C561.7,401.7 559.2,415.3 558.0,420.0M624.0,374.0C611.2,393.3 564.3,463.8 547.0,490.0C529.7,516.2 524.5,524.2 520.0,531.0M620.0,402.0C609.7,416.7 572.2,469.8 558.0,490.0C543.8,510.2 538.8,517.5 535.0,523.0M484.0,531.0C483.2,531.3 479.7,531.7 479.0,533.0C478.3,534.3 479.2,536.8 480.0,539.0C480.8,541.2 483.1,540.7 483.5,546.0C483.9,551.3 482.4,561.0 482.6,571.0C482.8,581.0 483.4,592.7 484.5,606.0C485.6,619.3 487.4,636.0 489.0,651.0C490.6,666.0 492.3,680.8 494.4,696.0C496.5,711.2 499.3,726.8 501.7,742.0C504.1,757.2 506.9,772.3 509.0,787.0C511.1,801.7 512.8,817.2 514.3,830.0C515.8,842.8 516.5,849.2 518.0,864.0C519.5,878.8 521.0,900.5 523.4,918.7C525.8,936.9 529.8,956.5 532.5,973.0C535.2,989.5 538.0,1005.7 539.7,1018.0C541.5,1030.3 542.5,1042.2 543.0,1047.0M480.0,667.0C480.8,673.3 482.9,692.5 485.0,705.0C487.1,717.5 489.8,728.3 492.6,742.0C495.4,755.7 499.3,772.3 501.7,787.0C504.1,801.7 505.3,816.2 507.0,830.0C508.7,843.8 511.2,863.3 512.0,870.0M480.0,722.0C480.6,722.8 479.3,720.2 483.5,727.0C487.7,733.8 496.8,751.5 505.0,763.0C513.2,774.5 524.9,784.8 532.5,796.0C540.1,807.2 545.2,821.0 550.6,830.0C556.0,839.0 562.6,846.7 565.0,850.0M532.5,511.7C531.0,518.3 525.2,537.3 523.4,551.5C521.6,565.7 523.1,584.7 521.6,596.8C520.1,608.9 516.7,615.0 514.3,624.0C511.9,633.0 508.5,642.0 507.0,651.0C505.5,660.0 504.7,668.9 505.3,678.0C505.9,687.1 507.7,696.4 510.7,705.5C513.7,714.6 518.9,723.6 523.4,732.7C527.9,741.8 534.1,750.9 537.9,759.9C541.7,768.9 543.8,777.0 546.0,787.0C548.2,797.0 549.2,808.7 551.0,820.0C552.8,831.3 555.0,843.1 557.0,855.0C559.0,866.9 562.3,879.4 563.0,891.5C563.7,903.6 563.5,917.2 561.4,927.8C559.3,938.4 555.4,946.0 550.6,955.0C545.8,964.0 537.9,973.0 532.5,982.0C527.1,991.0 521.6,1000.0 518.0,1009.0C514.4,1018.0 512.5,1025.4 510.7,1036.0C508.9,1046.6 506.7,1059.4 507.0,1072.7C507.3,1086.0 511.6,1108.8 512.5,1116.0M605.0,555.0C606.2,562.0 610.5,584.0 612.0,597.0C613.5,610.0 614.6,622.5 614.0,633.0C613.4,643.5 611.2,651.0 608.5,660.0C605.8,669.0 601.3,677.9 597.7,687.0C594.1,696.1 588.6,710.0 586.8,714.6M605.0,482.7C590.8,504.8 534.0,593.0 519.8,615.0M634.0,512.6C619.5,534.2 563.9,615.9 547.0,642.0C530.1,668.1 534.9,664.5 532.5,669.0M586.8,486.0C588.6,495.4 594.7,524.0 597.7,542.5C600.7,561.0 604.1,581.9 605.0,597.0C605.9,612.1 606.0,621.0 603.0,633.0C600.0,645.0 592.5,658.4 586.8,669.0C581.1,679.6 576.2,687.3 568.7,696.4C561.2,705.5 547.0,716.0 541.5,723.6C536.0,731.2 536.9,738.9 536.0,742.0M577.7,678.0C581.0,685.6 591.7,708.4 597.7,723.6C603.8,738.8 609.2,753.9 614.0,769.0C618.8,784.1 624.6,806.5 626.7,814.0M536.0,669.0C537.2,675.1 540.0,693.4 543.0,705.5C546.0,717.6 550.7,729.6 554.0,741.7C557.3,753.8 559.8,765.0 563.0,778.0C566.2,791.0 570.8,805.7 573.0,820.0C575.2,834.3 575.8,847.5 576.0,864.0C576.2,880.5 573.4,900.5 574.0,918.7C574.6,936.9 577.5,958.0 579.6,973.0C581.7,988.0 585.0,996.9 586.8,1009.0C588.6,1021.1 589.8,1039.4 590.4,1045.5M561.4,741.7C563.8,747.8 571.2,766.0 576.0,778.0C580.8,790.0 588.0,808.0 590.4,814.0M610.0,794.0C601.8,800.0 569.2,824.0 561.0,830.0M548.0,470.0C549.3,478.3 553.0,503.3 556.0,520.0C559.0,536.7 562.0,553.3 566.0,570.0C570.0,586.7 574.7,603.3 580.0,620.0C585.3,636.7 592.7,653.3 598.0,670.0C603.3,686.7 609.7,711.7 612.0,720.0M590.0,500.0C586.7,506.7 577.0,525.0 570.0,540.0C563.0,555.0 554.7,573.3 548.0,590.0C541.3,606.7 534.7,623.3 530.0,640.0C525.3,656.7 521.7,681.7 520.0,690.0M600.0,600.0C597.5,608.3 591.3,633.3 585.0,650.0C578.7,666.7 568.7,683.3 562.0,700.0C555.3,716.7 548.7,733.3 545.0,750.0C541.3,766.7 540.8,791.7 540.0,800.0M520.0,640.0C523.3,648.3 532.5,673.3 540.0,690.0C547.5,706.7 556.7,723.3 565.0,740.0C573.3,756.7 583.2,775.0 590.0,790.0C596.8,805.0 603.3,823.3 606.0,830.0M530.0,850.0C532.5,858.3 539.2,883.3 545.0,900.0C550.8,916.7 557.5,933.3 565.0,950.0C572.5,966.7 583.3,985.0 590.0,1000.0C596.7,1015.0 602.5,1033.3 605.0,1040.0M600.0,860.0C598.3,870.0 594.2,900.0 590.0,920.0C585.8,940.0 579.2,960.0 575.0,980.0C570.8,1000.0 565.8,1021.7 565.0,1040.0C564.2,1058.3 569.2,1081.7 570.0,1090.0M558.0,745.0C554.3,750.5 544.0,766.8 536.0,778.0C528.0,789.2 516.5,800.7 510.0,812.0C503.5,823.3 499.9,834.2 497.0,846.0C494.1,857.8 492.1,870.4 492.6,882.5C493.1,894.6 496.4,906.6 500.0,918.7C503.6,930.8 508.3,944.5 514.3,955.0C520.3,965.5 526.4,972.3 536.0,982.0C545.6,991.7 566.0,1007.8 572.0,1013.0M521.6,810.0C524.6,817.5 533.7,839.9 539.7,855.0C545.7,870.1 551.1,885.5 557.8,900.6C564.4,915.8 571.7,932.3 579.6,945.9C587.5,959.5 598.4,973.0 605.0,982.0C611.6,991.0 617.0,997.0 619.4,1000.0M586.8,837.0C590.4,841.5 602.8,853.4 608.5,864.0C614.2,874.6 618.3,888.5 621.0,900.6C623.7,912.7 625.1,923.2 624.8,936.8C624.5,950.4 620.9,971.5 619.4,982.0C617.9,992.5 616.4,997.0 615.8,1000.0M576.0,842.6C573.0,849.2 562.6,869.8 557.8,882.5C553.0,895.2 550.0,904.3 547.0,918.7C544.0,933.1 540.9,960.6 539.7,969.0M590.4,1070.9C588.0,1075.8 580.4,1088.8 576.0,1100.0C571.6,1111.2 566.0,1131.7 564.0,1138.0M536.0,1036.4C539.0,1042.5 548.0,1062.8 554.0,1072.7C560.0,1082.6 565.8,1088.0 572.0,1096.0C578.2,1104.0 588.1,1116.6 591.3,1120.7M626.7,1092.6C624.8,1094.7 617.0,1103.2 615.0,1105.3M565.0,813.6C573.5,817.8 607.3,834.8 615.8,839.0" stroke="#555" stroke-width="4.8"/>
<path d="M514.0,154.0C515.3,158.5 518.7,168.2 522.0,181.0C525.3,193.8 530.7,215.3 534.0,231.0C537.3,246.7 539.2,261.7 542.0,275.0C544.8,288.3 547.8,299.0 551.0,311.0C554.2,323.0 556.8,334.8 561.0,347.0C565.2,359.2 571.2,372.5 576.0,384.0C580.8,395.5 585.5,405.8 590.0,416.0C594.5,426.2 600.8,440.2 603.0,445.0M538.0,150.0C537.2,148.8 534.8,143.5 533.0,143.0C531.2,142.5 528.8,140.2 527.0,147.0C525.2,153.8 524.2,168.7 522.0,184.0C519.8,199.3 516.2,217.8 514.0,239.0C511.8,260.2 509.8,290.0 509.0,311.0C508.2,332.0 508.2,349.8 509.0,365.0C509.8,380.2 511.8,389.8 514.0,402.0C516.2,414.2 518.7,425.3 522.0,438.0C525.3,450.7 529.8,463.7 534.0,478.0C538.2,492.3 542.4,507.2 547.0,524.0C551.6,540.8 556.3,560.5 561.4,578.7C566.5,596.9 572.9,616.5 577.7,633.0C582.5,649.5 585.9,665.9 590.4,678.0C594.9,690.1 602.6,700.9 605.0,705.5M538.0,177.0C539.5,184.8 543.7,208.8 547.0,224.0C550.3,239.2 555.0,255.0 558.0,268.0C561.0,281.0 563.5,291.8 565.0,302.0C566.5,312.2 567.0,319.3 567.0,329.0C567.0,338.7 566.2,349.3 565.0,360.0C563.8,370.7 561.3,383.0 560.0,393.0C558.7,403.0 557.7,411.0 557.0,420.0C556.3,429.0 555.3,436.5 556.0,447.0C556.7,457.5 559.2,472.8 561.0,483.0C562.8,493.2 566.0,503.8 567.0,508.0M540.0,177.0C541.8,184.2 547.5,203.7 551.0,220.0C554.5,236.3 556.8,256.8 561.0,275.0C565.2,293.2 569.8,310.8 576.0,329.0C582.2,347.2 591.3,367.3 598.0,384.0C604.7,400.7 611.0,415.2 616.0,429.0C621.0,442.8 626.0,460.7 628.0,467.0M588.0,142.0C589.3,146.7 592.8,159.0 596.0,170.0C599.2,181.0 604.2,195.0 607.0,208.0C609.8,221.0 611.8,236.8 613.0,248.0C614.2,259.2 614.7,266.0 614.0,275.0C613.3,284.0 611.7,293.0 609.0,302.0C606.3,311.0 602.8,319.0 598.0,329.0C593.2,339.0 587.3,351.3 580.0,362.0C572.7,372.7 562.0,384.5 554.0,393.0C546.0,401.5 537.3,407.3 532.0,413.0C526.7,418.7 525.5,419.8 522.0,427.0C518.5,434.2 513.5,445.5 511.0,456.0C508.5,466.5 506.8,477.2 507.0,490.0C507.2,502.8 510.1,518.2 512.5,533.0C514.9,547.8 518.3,563.8 521.6,579.0C524.9,594.2 528.3,609.0 532.5,624.0C536.7,639.0 541.6,653.9 547.0,669.0C552.4,684.1 559.0,699.4 565.0,714.6C571.0,729.8 577.5,746.4 583.0,760.0C588.5,773.6 593.5,785.2 597.7,796.0C601.9,806.8 605.3,815.2 608.0,825.0C610.7,834.8 613.7,843.9 614.0,855.0C614.3,866.1 612.2,880.9 610.0,891.5C607.8,902.1 604.9,909.6 601.0,918.7C597.1,927.8 591.6,936.9 586.8,945.9C582.0,954.9 576.2,964.0 572.0,973.0C567.8,982.0 564.1,991.0 561.4,1000.0C558.7,1009.0 556.3,1017.9 556.0,1027.0C555.7,1036.1 558.3,1046.3 559.6,1054.5C560.9,1062.7 563.3,1072.4 564.0,1076.0M521.0,288.0C522.3,294.8 526.2,314.5 529.0,329.0C531.8,343.5 534.7,359.8 538.0,375.0C541.3,390.2 545.3,406.5 549.0,420.0C552.7,433.5 556.7,445.7 560.0,456.0C563.3,466.3 566.0,472.2 568.7,482.0C571.4,491.8 573.0,501.9 576.0,515.0C579.0,528.1 584.4,547.0 586.8,560.6C589.2,574.2 590.4,583.2 590.4,596.8C590.4,610.4 589.2,628.5 586.8,642.0C584.4,655.5 580.2,667.4 576.0,678.0C571.8,688.6 567.4,695.5 561.4,705.5C555.4,715.5 544.2,728.9 539.7,738.0C535.2,747.1 535.2,756.3 534.3,760.0M592.0,335.0C589.7,339.5 582.5,352.5 578.0,362.0C573.5,371.5 568.3,382.3 565.0,392.0C561.7,401.7 559.2,415.3 558.0,420.0M624.0,374.0C611.2,393.3 564.3,463.8 547.0,490.0C529.7,516.2 524.5,524.2 520.0,531.0M620.0,402.0C609.7,416.7 572.2,469.8 558.0,490.0C543.8,510.2 538.8,517.5 535.0,523.0M484.0,531.0C483.2,531.3 479.7,531.7 479.0,533.0C478.3,534.3 479.2,536.8 480.0,539.0C480.8,541.2 483.1,540.7 483.5,546.0C483.9,551.3 482.4,561.0 482.6,571.0C482.8,581.0 483.4,592.7 484.5,606.0C485.6,619.3 487.4,636.0 489.0,651.0C490.6,666.0 492.3,680.8 494.4,696.0C496.5,711.2 499.3,726.8 501.7,742.0C504.1,757.2 506.9,772.3 509.0,787.0C511.1,801.7 512.8,817.2 514.3,830.0C515.8,842.8 516.5,849.2 518.0,864.0C519.5,878.8 521.0,900.5 523.4,918.7C525.8,936.9 529.8,956.5 532.5,973.0C535.2,989.5 538.0,1005.7 539.7,1018.0C541.5,1030.3 542.5,1042.2 543.0,1047.0M480.0,667.0C480.8,673.3 482.9,692.5 485.0,705.0C487.1,717.5 489.8,728.3 492.6,742.0C495.4,755.7 499.3,772.3 501.7,787.0C504.1,801.7 505.3,816.2 507.0,830.0C508.7,843.8 511.2,863.3 512.0,870.0M480.0,722.0C480.6,722.8 479.3,720.2 483.5,727.0C487.7,733.8 496.8,751.5 505.0,763.0C513.2,774.5 524.9,784.8 532.5,796.0C540.1,807.2 545.2,821.0 550.6,830.0C556.0,839.0 562.6,846.7 565.0,850.0M532.5,511.7C531.0,518.3 525.2,537.3 523.4,551.5C521.6,565.7 523.1,584.7 521.6,596.8C520.1,608.9 516.7,615.0 514.3,624.0C511.9,633.0 508.5,642.0 507.0,651.0C505.5,660.0 504.7,668.9 505.3,678.0C505.9,687.1 507.7,696.4 510.7,705.5C513.7,714.6 518.9,723.6 523.4,732.7C527.9,741.8 534.1,750.9 537.9,759.9C541.7,768.9 543.8,777.0 546.0,787.0C548.2,797.0 549.2,808.7 551.0,820.0C552.8,831.3 555.0,843.1 557.0,855.0C559.0,866.9 562.3,879.4 563.0,891.5C563.7,903.6 563.5,917.2 561.4,927.8C559.3,938.4 555.4,946.0 550.6,955.0C545.8,964.0 537.9,973.0 532.5,982.0C527.1,991.0 521.6,1000.0 518.0,1009.0C514.4,1018.0 512.5,1025.4 510.7,1036.0C508.9,1046.6 506.7,1059.4 507.0,1072.7C507.3,1086.0 511.6,1108.8 512.5,1116.0M605.0,555.0C606.2,562.0 610.5,584.0 612.0,597.0C613.5,610.0 614.6,622.5 614.0,633.0C613.4,643.5 611.2,651.0 608.5,660.0C605.8,669.0 601.3,677.9 597.7,687.0C594.1,696.1 588.6,710.0 586.8,714.6M605.0,482.7C590.8,504.8 534.0,593.0 519.8,615.0M634.0,512.6C619.5,534.2 563.9,615.9 547.0,642.0C530.1,668.1 534.9,664.5 532.5,669.0M586.8,486.0C588.6,495.4 594.7,524.0 597.7,542.5C600.7,561.0 604.1,581.9 605.0,597.0C605.9,612.1 606.0,621.0 603.0,633.0C600.0,645.0 592.5,658.4 586.8,669.0C581.1,679.6 576.2,687.3 568.7,696.4C561.2,705.5 547.0,716.0 541.5,723.6C536.0,731.2 536.9,738.9 536.0,742.0M577.7,678.0C581.0,685.6 591.7,708.4 597.7,723.6C603.8,738.8 609.2,753.9 614.0,769.0C618.8,784.1 624.6,806.5 626.7,814.0M536.0,669.0C537.2,675.1 540.0,693.4 543.0,705.5C546.0,717.6 550.7,729.6 554.0,741.7C557.3,753.8 559.8,765.0 563.0,778.0C566.2,791.0 570.8,805.7 573.0,820.0C575.2,834.3 575.8,847.5 576.0,864.0C576.2,880.5 573.4,900.5 574.0,918.7C574.6,936.9 577.5,958.0 579.6,973.0C581.7,988.0 585.0,996.9 586.8,1009.0C588.6,1021.1 589.8,1039.4 590.4,1045.5M561.4,741.7C563.8,747.8 571.2,766.0 576.0,778.0C580.8,790.0 588.0,808.0 590.4,814.0M610.0,794.0C601.8,800.0 569.2,824.0 561.0,830.0M548.0,470.0C549.3,478.3 553.0,503.3 556.0,520.0C559.0,536.7 562.0,553.3 566.0,570.0C570.0,586.7 574.7,603.3 580.0,620.0C585.3,636.7 592.7,653.3 598.0,670.0C603.3,686.7 609.7,711.7 612.0,720.0M590.0,500.0C586.7,506.7 577.0,525.0 570.0,540.0C563.0,555.0 554.7,573.3 548.0,590.0C541.3,606.7 534.7,623.3 530.0,640.0C525.3,656.7 521.7,681.7 520.0,690.0M600.0,600.0C597.5,608.3 591.3,633.3 585.0,650.0C578.7,666.7 568.7,683.3 562.0,700.0C555.3,716.7 548.7,733.3 545.0,750.0C541.3,766.7 540.8,791.7 540.0,800.0M520.0,640.0C523.3,648.3 532.5,673.3 540.0,690.0C547.5,706.7 556.7,723.3 565.0,740.0C573.3,756.7 583.2,775.0 590.0,790.0C596.8,805.0 603.3,823.3 606.0,830.0M530.0,850.0C532.5,858.3 539.2,883.3 545.0,900.0C550.8,916.7 557.5,933.3 565.0,950.0C572.5,966.7 583.3,985.0 590.0,1000.0C596.7,1015.0 602.5,1033.3 605.0,1040.0M600.0,860.0C598.3,870.0 594.2,900.0 590.0,920.0C585.8,940.0 579.2,960.0 575.0,980.0C570.8,1000.0 565.8,1021.7 565.0,1040.0C564.2,1058.3 569.2,1081.7 570.0,1090.0M558.0,745.0C554.3,750.5 544.0,766.8 536.0,778.0C528.0,789.2 516.5,800.7 510.0,812.0C503.5,823.3 499.9,834.2 497.0,846.0C494.1,857.8 492.1,870.4 492.6,882.5C493.1,894.6 496.4,906.6 500.0,918.7C503.6,930.8 508.3,944.5 514.3,955.0C520.3,965.5 526.4,972.3 536.0,982.0C545.6,991.7 566.0,1007.8 572.0,1013.0M521.6,810.0C524.6,817.5 533.7,839.9 539.7,855.0C545.7,870.1 551.1,885.5 557.8,900.6C564.4,915.8 571.7,932.3 579.6,945.9C587.5,959.5 598.4,973.0 605.0,982.0C611.6,991.0 617.0,997.0 619.4,1000.0M586.8,837.0C590.4,841.5 602.8,853.4 608.5,864.0C614.2,874.6 618.3,888.5 621.0,900.6C623.7,912.7 625.1,923.2 624.8,936.8C624.5,950.4 620.9,971.5 619.4,982.0C617.9,992.5 616.4,997.0 615.8,1000.0M576.0,842.6C573.0,849.2 562.6,869.8 557.8,882.5C553.0,895.2 550.0,904.3 547.0,918.7C544.0,933.1 540.9,960.6 539.7,969.0M590.4,1070.9C588.0,1075.8 580.4,1088.8 576.0,1100.0C571.6,1111.2 566.0,1131.7 564.0,1138.0M536.0,1036.4C539.0,1042.5 548.0,1062.8 554.0,1072.7C560.0,1082.6 565.8,1088.0 572.0,1096.0C578.2,1104.0 588.1,1116.6 591.3,1120.7M626.7,1092.6C624.8,1094.7 617.0,1103.2 615.0,1105.3M565.0,813.6C573.5,817.8 607.3,834.8 615.8,839.0" stroke="#7e7e7e" stroke-width="2.4"/>
</g>
<g fill="none" stroke-linecap="round" stroke-linejoin="round">
<path d="M855.0,142.0C852.5,143.8 843.7,147.2 840.0,153.0C836.3,158.8 833.0,168.0 833.0,177.0C833.0,186.0 837.5,197.7 840.0,207.0C842.5,216.3 849.2,227.0 848.0,233.0C846.8,239.0 841.0,239.7 833.0,243.0C825.0,246.3 807.7,245.7 800.0,253.0C792.3,260.3 790.0,279.2 787.0,287.0C784.0,294.8 782.8,297.8 782.0,300.0M867.0,153.0C869.7,151.3 874.7,144.0 883.0,143.0C891.3,142.0 908.0,147.5 917.0,147.0C926.0,146.5 931.7,137.8 937.0,140.0C942.3,142.2 945.0,151.8 949.0,160.0C953.0,168.2 961.0,182.2 961.0,189.5C961.0,196.8 952.7,198.7 949.0,204.0C945.3,209.3 940.7,211.7 939.0,221.6C937.3,231.5 938.6,252.6 939.0,263.7C939.4,274.8 940.0,281.0 941.5,288.4C943.0,295.8 947.3,300.2 947.7,308.0C948.1,315.8 941.8,331.6 944.0,335.4C946.2,339.1 955.7,336.7 961.0,330.5C966.3,324.3 973.5,303.4 976.0,298.0M1060.0,232.0C1057.8,230.8 1057.0,225.0 1047.0,225.0C1037.0,225.0 1011.2,229.0 1000.0,232.0C988.8,235.0 983.8,236.2 980.0,243.0C976.2,249.8 977.5,268.0 977.0,273.0M977.0,303.0C973.0,305.3 958.7,312.0 953.0,317.0C947.3,322.0 944.7,330.3 943.0,333.0M847.0,343.0C841.3,347.0 821.3,357.5 813.0,367.0C804.7,376.5 800.8,386.2 797.0,400.0C793.2,413.8 787.3,436.2 790.0,450.0C792.7,463.8 800.2,476.8 813.0,483.0C825.8,489.2 853.7,486.2 867.0,487.0C880.3,487.8 884.7,489.7 893.0,488.0C901.3,486.3 913.0,478.8 917.0,477.0M997.0,490.0C997.5,497.2 996.7,521.8 1000.0,533.0C1003.3,544.2 1009.8,550.3 1017.0,557.0C1024.2,563.7 1038.7,570.3 1043.0,573.0M867.0,663.0C869.7,667.0 872.0,682.5 883.0,687.0C894.0,691.5 916.3,691.7 933.0,690.0C949.7,688.3 969.0,679.8 983.0,677.0C997.0,674.2 1004.7,675.8 1017.0,673.0C1029.3,670.2 1050.3,662.2 1057.0,660.0M797.0,753.0C803.0,748.7 818.7,734.2 833.0,727.0C847.3,719.8 866.3,712.3 883.0,710.0C899.7,707.7 916.3,709.2 933.0,713.0C949.7,716.8 970.2,733.0 983.0,733.0C995.8,733.0 1001.0,715.7 1010.0,713.0C1019.0,710.3 1032.5,716.3 1037.0,717.0M763.0,910.0C767.0,912.8 775.3,922.0 787.0,927.0C798.7,932.0 821.3,942.8 833.0,940.0C844.7,937.2 851.3,919.5 857.0,910.0C862.7,900.5 859.8,889.2 867.0,883.0C874.2,876.8 887.8,874.0 900.0,873.0C912.2,872.0 933.3,876.3 940.0,877.0M1017.0,850.0C1019.2,846.2 1026.7,831.5 1030.0,827.0C1033.3,822.5 1035.8,823.7 1037.0,823.0M860.0,943.0C861.2,948.7 862.5,968.0 867.0,977.0C871.5,986.0 883.7,993.7 887.0,997.0M960.0,993.0C962.2,989.2 968.5,976.7 973.0,970.0C977.5,963.3 977.0,956.3 987.0,953.0C997.0,949.7 1024.7,954.3 1033.0,950.0C1041.3,945.7 1036.3,930.8 1037.0,927.0M827.0,1017.0C830.3,1015.3 843.7,1008.7 847.0,1007.0M1230.0,125.0C1232.8,128.0 1242.0,133.3 1247.0,143.0C1252.0,152.7 1256.2,171.8 1260.0,183.0C1263.8,194.2 1264.5,203.3 1270.0,210.0C1275.5,216.7 1286.3,219.7 1293.0,223.0C1299.7,226.3 1301.0,229.7 1310.0,230.0C1319.0,230.3 1335.8,225.0 1347.0,225.0C1358.2,225.0 1369.3,226.3 1377.0,230.0C1384.7,233.7 1389.2,238.2 1393.0,247.0C1396.8,255.8 1398.3,268.7 1400.0,283.0C1401.7,297.3 1404.2,319.0 1403.0,333.0C1401.8,347.0 1397.3,355.8 1393.0,367.0C1388.7,378.2 1379.7,394.5 1377.0,400.0M1223.0,230.0C1219.7,236.2 1206.3,260.8 1203.0,267.0M1190.0,377.0C1196.2,375.8 1215.3,373.3 1227.0,370.0C1238.7,366.7 1250.7,363.2 1260.0,357.0C1269.3,350.8 1277.5,342.5 1283.0,333.0C1288.5,323.5 1291.3,305.5 1293.0,300.0M1167.0,463.0C1169.2,465.8 1170.0,477.7 1180.0,480.0C1190.0,482.3 1210.8,479.2 1227.0,477.0C1243.2,474.8 1263.2,469.3 1277.0,467.0C1290.8,464.7 1300.0,468.7 1310.0,463.0C1320.0,457.3 1328.7,441.8 1337.0,433.0C1345.3,424.2 1350.7,415.5 1360.0,410.0C1369.3,404.5 1382.5,400.0 1393.0,400.0C1403.5,400.0 1418.0,408.3 1423.0,410.0M1347.0,473.0C1343.7,477.5 1333.7,490.5 1327.0,500.0C1320.3,509.5 1310.3,518.8 1307.0,530.0C1303.7,541.2 1304.3,557.5 1307.0,567.0C1309.7,576.5 1320.3,583.7 1323.0,587.0M1177.0,520.0C1179.7,518.8 1184.7,514.3 1193.0,513.0C1201.3,511.7 1216.3,510.3 1227.0,512.0C1237.7,513.7 1250.3,517.8 1257.0,523.0C1263.7,528.2 1264.8,535.7 1267.0,543.0C1269.2,550.3 1265.7,559.7 1270.0,567.0C1274.3,574.3 1284.7,583.2 1293.0,587.0C1301.3,590.8 1315.5,589.5 1320.0,590.0M1177.0,600.0C1180.8,603.3 1192.8,608.8 1200.0,620.0C1207.2,631.2 1213.8,654.8 1220.0,667.0C1226.2,679.2 1228.7,689.7 1237.0,693.0C1245.3,696.3 1259.0,689.7 1270.0,687.0C1281.0,684.3 1297.5,678.7 1303.0,677.0M1467.0,640.0C1463.0,643.3 1450.8,654.5 1443.0,660.0C1435.2,665.5 1426.0,666.3 1420.0,673.0C1414.0,679.7 1409.2,690.0 1407.0,700.0C1404.8,710.0 1407.7,721.8 1407.0,733.0C1406.3,744.2 1410.8,758.0 1403.0,767.0C1395.2,776.0 1372.7,779.3 1360.0,787.0C1347.3,794.7 1332.5,808.7 1327.0,813.0M1313.0,837.0C1318.0,834.7 1333.0,826.7 1343.0,823.0C1353.0,819.3 1362.3,815.8 1373.0,815.0C1383.7,814.2 1398.7,813.3 1407.0,818.0C1415.3,822.7 1414.2,837.7 1423.0,843.0C1431.8,848.3 1451.0,846.7 1460.0,850.0C1469.0,853.3 1474.2,860.8 1477.0,863.0M1283.0,890.0C1281.3,896.2 1274.0,915.3 1273.0,927.0C1272.0,938.7 1276.3,949.0 1277.0,960.0C1277.7,971.0 1282.7,986.3 1277.0,993.0C1271.3,999.7 1253.0,994.3 1243.0,1000.0C1233.0,1005.7 1222.5,1017.0 1217.0,1027.0C1211.5,1037.0 1208.3,1049.0 1210.0,1060.0C1211.7,1071.0 1218.7,1086.3 1227.0,1093.0C1235.3,1099.7 1246.2,1100.0 1260.0,1100.0C1273.8,1100.0 1296.7,1094.2 1310.0,1093.0C1323.3,1091.8 1333.3,1089.0 1340.0,1093.0C1346.7,1097.0 1343.8,1110.3 1350.0,1117.0C1356.2,1123.7 1364.2,1132.0 1377.0,1133.0C1389.8,1134.0 1413.2,1126.3 1427.0,1123.0C1440.8,1119.7 1447.3,1116.0 1460.0,1113.0C1472.7,1110.0 1495.8,1106.3 1503.0,1105.0" stroke="#9fe070" stroke-width="8" opacity="0.7" filter="url(#bl2)"/>
<path d="M855.0,142.0C852.5,143.8 843.7,147.2 840.0,153.0C836.3,158.8 833.0,168.0 833.0,177.0C833.0,186.0 837.5,197.7 840.0,207.0C842.5,216.3 849.2,227.0 848.0,233.0C846.8,239.0 841.0,239.7 833.0,243.0C825.0,246.3 807.7,245.7 800.0,253.0C792.3,260.3 790.0,279.2 787.0,287.0C784.0,294.8 782.8,297.8 782.0,300.0M867.0,153.0C869.7,151.3 874.7,144.0 883.0,143.0C891.3,142.0 908.0,147.5 917.0,147.0C926.0,146.5 931.7,137.8 937.0,140.0C942.3,142.2 945.0,151.8 949.0,160.0C953.0,168.2 961.0,182.2 961.0,189.5C961.0,196.8 952.7,198.7 949.0,204.0C945.3,209.3 940.7,211.7 939.0,221.6C937.3,231.5 938.6,252.6 939.0,263.7C939.4,274.8 940.0,281.0 941.5,288.4C943.0,295.8 947.3,300.2 947.7,308.0C948.1,315.8 941.8,331.6 944.0,335.4C946.2,339.1 955.7,336.7 961.0,330.5C966.3,324.3 973.5,303.4 976.0,298.0M1060.0,232.0C1057.8,230.8 1057.0,225.0 1047.0,225.0C1037.0,225.0 1011.2,229.0 1000.0,232.0C988.8,235.0 983.8,236.2 980.0,243.0C976.2,249.8 977.5,268.0 977.0,273.0M977.0,303.0C973.0,305.3 958.7,312.0 953.0,317.0C947.3,322.0 944.7,330.3 943.0,333.0M847.0,343.0C841.3,347.0 821.3,357.5 813.0,367.0C804.7,376.5 800.8,386.2 797.0,400.0C793.2,413.8 787.3,436.2 790.0,450.0C792.7,463.8 800.2,476.8 813.0,483.0C825.8,489.2 853.7,486.2 867.0,487.0C880.3,487.8 884.7,489.7 893.0,488.0C901.3,486.3 913.0,478.8 917.0,477.0M997.0,490.0C997.5,497.2 996.7,521.8 1000.0,533.0C1003.3,544.2 1009.8,550.3 1017.0,557.0C1024.2,563.7 1038.7,570.3 1043.0,573.0M867.0,663.0C869.7,667.0 872.0,682.5 883.0,687.0C894.0,691.5 916.3,691.7 933.0,690.0C949.7,688.3 969.0,679.8 983.0,677.0C997.0,674.2 1004.7,675.8 1017.0,673.0C1029.3,670.2 1050.3,662.2 1057.0,660.0M797.0,753.0C803.0,748.7 818.7,734.2 833.0,727.0C847.3,719.8 866.3,712.3 883.0,710.0C899.7,707.7 916.3,709.2 933.0,713.0C949.7,716.8 970.2,733.0 983.0,733.0C995.8,733.0 1001.0,715.7 1010.0,713.0C1019.0,710.3 1032.5,716.3 1037.0,717.0M763.0,910.0C767.0,912.8 775.3,922.0 787.0,927.0C798.7,932.0 821.3,942.8 833.0,940.0C844.7,937.2 851.3,919.5 857.0,910.0C862.7,900.5 859.8,889.2 867.0,883.0C874.2,876.8 887.8,874.0 900.0,873.0C912.2,872.0 933.3,876.3 940.0,877.0M1017.0,850.0C1019.2,846.2 1026.7,831.5 1030.0,827.0C1033.3,822.5 1035.8,823.7 1037.0,823.0M860.0,943.0C861.2,948.7 862.5,968.0 867.0,977.0C871.5,986.0 883.7,993.7 887.0,997.0M960.0,993.0C962.2,989.2 968.5,976.7 973.0,970.0C977.5,963.3 977.0,956.3 987.0,953.0C997.0,949.7 1024.7,954.3 1033.0,950.0C1041.3,945.7 1036.3,930.8 1037.0,927.0M827.0,1017.0C830.3,1015.3 843.7,1008.7 847.0,1007.0M1230.0,125.0C1232.8,128.0 1242.0,133.3 1247.0,143.0C1252.0,152.7 1256.2,171.8 1260.0,183.0C1263.8,194.2 1264.5,203.3 1270.0,210.0C1275.5,216.7 1286.3,219.7 1293.0,223.0C1299.7,226.3 1301.0,229.7 1310.0,230.0C1319.0,230.3 1335.8,225.0 1347.0,225.0C1358.2,225.0 1369.3,226.3 1377.0,230.0C1384.7,233.7 1389.2,238.2 1393.0,247.0C1396.8,255.8 1398.3,268.7 1400.0,283.0C1401.7,297.3 1404.2,319.0 1403.0,333.0C1401.8,347.0 1397.3,355.8 1393.0,367.0C1388.7,378.2 1379.7,394.5 1377.0,400.0M1223.0,230.0C1219.7,236.2 1206.3,260.8 1203.0,267.0M1190.0,377.0C1196.2,375.8 1215.3,373.3 1227.0,370.0C1238.7,366.7 1250.7,363.2 1260.0,357.0C1269.3,350.8 1277.5,342.5 1283.0,333.0C1288.5,323.5 1291.3,305.5 1293.0,300.0M1167.0,463.0C1169.2,465.8 1170.0,477.7 1180.0,480.0C1190.0,482.3 1210.8,479.2 1227.0,477.0C1243.2,474.8 1263.2,469.3 1277.0,467.0C1290.8,464.7 1300.0,468.7 1310.0,463.0C1320.0,457.3 1328.7,441.8 1337.0,433.0C1345.3,424.2 1350.7,415.5 1360.0,410.0C1369.3,404.5 1382.5,400.0 1393.0,400.0C1403.5,400.0 1418.0,408.3 1423.0,410.0M1347.0,473.0C1343.7,477.5 1333.7,490.5 1327.0,500.0C1320.3,509.5 1310.3,518.8 1307.0,530.0C1303.7,541.2 1304.3,557.5 1307.0,567.0C1309.7,576.5 1320.3,583.7 1323.0,587.0M1177.0,520.0C1179.7,518.8 1184.7,514.3 1193.0,513.0C1201.3,511.7 1216.3,510.3 1227.0,512.0C1237.7,513.7 1250.3,517.8 1257.0,523.0C1263.7,528.2 1264.8,535.7 1267.0,543.0C1269.2,550.3 1265.7,559.7 1270.0,567.0C1274.3,574.3 1284.7,583.2 1293.0,587.0C1301.3,590.8 1315.5,589.5 1320.0,590.0M1177.0,600.0C1180.8,603.3 1192.8,608.8 1200.0,620.0C1207.2,631.2 1213.8,654.8 1220.0,667.0C1226.2,679.2 1228.7,689.7 1237.0,693.0C1245.3,696.3 1259.0,689.7 1270.0,687.0C1281.0,684.3 1297.5,678.7 1303.0,677.0M1467.0,640.0C1463.0,643.3 1450.8,654.5 1443.0,660.0C1435.2,665.5 1426.0,666.3 1420.0,673.0C1414.0,679.7 1409.2,690.0 1407.0,700.0C1404.8,710.0 1407.7,721.8 1407.0,733.0C1406.3,744.2 1410.8,758.0 1403.0,767.0C1395.2,776.0 1372.7,779.3 1360.0,787.0C1347.3,794.7 1332.5,808.7 1327.0,813.0M1313.0,837.0C1318.0,834.7 1333.0,826.7 1343.0,823.0C1353.0,819.3 1362.3,815.8 1373.0,815.0C1383.7,814.2 1398.7,813.3 1407.0,818.0C1415.3,822.7 1414.2,837.7 1423.0,843.0C1431.8,848.3 1451.0,846.7 1460.0,850.0C1469.0,853.3 1474.2,860.8 1477.0,863.0M1283.0,890.0C1281.3,896.2 1274.0,915.3 1273.0,927.0C1272.0,938.7 1276.3,949.0 1277.0,960.0C1277.7,971.0 1282.7,986.3 1277.0,993.0C1271.3,999.7 1253.0,994.3 1243.0,1000.0C1233.0,1005.7 1222.5,1017.0 1217.0,1027.0C1211.5,1037.0 1208.3,1049.0 1210.0,1060.0C1211.7,1071.0 1218.7,1086.3 1227.0,1093.0C1235.3,1099.7 1246.2,1100.0 1260.0,1100.0C1273.8,1100.0 1296.7,1094.2 1310.0,1093.0C1323.3,1091.8 1333.3,1089.0 1340.0,1093.0C1346.7,1097.0 1343.8,1110.3 1350.0,1117.0C1356.2,1123.7 1364.2,1132.0 1377.0,1133.0C1389.8,1134.0 1413.2,1126.3 1427.0,1123.0C1440.8,1119.7 1447.3,1116.0 1460.0,1113.0C1472.7,1110.0 1495.8,1106.3 1503.0,1105.0" stroke="#dcf8cc" stroke-width="2.4" opacity="0.95"/>
</g>
<rect x="1051" y="128.5" width="115" height="985" rx="13" fill="#b4c7e7"/>
<text transform="translate(1079.5,545.5) rotate(90)" font-size="67.5" fill="#000" font-family="Liberation Sans, Arial, sans-serif">PEM</text>
<path d="M922.0,442.0C918.3,435.0 909.0,413.7 900.0,400.0C891.0,386.3 879.3,371.2 868.0,360.0C856.7,348.8 848.7,341.3 832.0,333.0C815.3,324.7 785.5,316.7 768.0,310.0C750.5,303.3 739.2,299.3 727.0,293.0C714.8,286.7 706.2,277.3 695.0,272.0C683.8,266.7 675.8,264.3 660.0,261.0C644.2,257.7 626.7,255.5 600.0,252.0C573.3,248.5 530.0,243.0 500.0,240.0C470.0,237.0 441.7,235.7 420.0,234.0C398.3,232.3 378.2,230.3 369.9,229.5" fill="none" stroke="#7030a0" stroke-width="5" stroke-linecap="round" />
<path d="M387.8,221.3 L369.9,229.5 L384.5,240.5" fill="none" stroke="#7030a0" stroke-width="5" stroke-linecap="round" stroke-linejoin="miter" stroke-miterlimit="6" />
<path d="M1839.0,394.0C1829.2,394.2 1806.5,394.5 1780.0,395.0C1753.5,395.5 1711.2,396.2 1680.0,397.0C1648.8,397.8 1613.0,398.2 1593.0,400.0C1573.0,401.8 1567.7,404.3 1560.0,408.0C1552.3,411.7 1549.0,415.0 1547.0,422.0C1545.0,429.0 1548.7,442.0 1548.0,450.0C1547.3,458.0 1549.3,462.8 1543.0,470.0C1536.7,477.2 1523.8,484.7 1510.0,493.0C1496.2,501.3 1476.7,509.3 1460.0,520.0C1443.3,530.7 1426.7,543.3 1410.0,557.0C1393.3,570.7 1370.3,592.5 1360.0,602.0C1349.7,611.5 1350.1,612.2 1348.1,614.2" fill="none" stroke="#3a5f28" stroke-width="5.2" stroke-linecap="round" />
<path d="M1350.2,598.9 L1348.1,614.2 L1365.7,608.4" fill="none" stroke="#3a5f28" stroke-width="5.2" stroke-linecap="round" stroke-linejoin="miter" stroke-miterlimit="6" />
<path d="M1363.0,627.0C1368.0,631.3 1379.7,642.5 1393.0,653.0C1406.3,663.5 1426.3,680.0 1443.0,690.0C1459.7,700.0 1473.5,706.3 1493.0,713.0C1512.5,719.7 1537.7,726.0 1560.0,730.0C1582.3,734.0 1604.8,735.8 1627.0,737.0C1649.2,738.2 1667.5,738.0 1693.0,737.0C1718.5,736.0 1755.3,732.9 1780.0,731.0C1804.7,729.1 1831.0,726.3 1841.2,725.4" fill="none" stroke="#2f5597" stroke-width="5.8" stroke-linecap="round" />
<path d="M1822.3,715.9 L1841.2,725.4 L1823.8,737.0" fill="none" stroke="#2f5597" stroke-width="5.8" stroke-linecap="round" stroke-linejoin="miter" stroke-miterlimit="6" />
<path d="M399.0,758.0C412.5,758.3 453.2,760.3 480.0,760.0C506.8,759.7 533.3,759.2 560.0,756.0C586.7,752.8 611.2,750.3 640.0,741.0C668.8,731.7 706.3,714.3 733.0,700.0C759.7,685.7 783.3,666.2 800.0,655.0C816.7,643.8 821.3,642.5 833.0,633.0C844.7,623.5 858.8,609.8 870.0,598.0C881.2,586.2 891.3,575.0 900.0,562.0C908.7,549.0 918.3,527.0 922.0,520.0" fill="none" stroke="#5b9bd5" stroke-width="22" opacity="0.75" filter="url(#bl5)"/>
<path d="M399.0,758.0C412.5,758.3 453.2,760.3 480.0,760.0C506.8,759.7 533.3,759.2 560.0,756.0C586.7,752.8 611.2,750.3 640.0,741.0C668.8,731.7 706.3,714.3 733.0,700.0C759.7,685.7 783.3,666.2 800.0,655.0C816.7,643.8 821.3,642.5 833.0,633.0C844.7,623.5 858.8,609.8 870.0,598.0C881.2,586.2 891.3,575.0 900.0,562.0C908.7,549.0 916.5,532.0 922.0,520.0C927.5,508.0 931.0,497.8 933.0,490.0C935.0,482.2 933.8,476.1 934.0,473.4" fill="none" stroke="#c60000" stroke-width="11.5" stroke-linecap="butt" />
<path d="M910.1,497.9 L934.0,473.4 L942.0,504.9" fill="none" stroke="#c60000" stroke-width="11.5" stroke-linecap="round" stroke-linejoin="miter" stroke-miterlimit="6" />
<path d="M1342.0,633.0C1341.2,638.7 1341.2,657.0 1337.0,667.0C1332.8,677.0 1327.0,687.0 1317.0,693.0C1307.0,699.0 1294.8,702.3 1277.0,703.0C1259.2,703.7 1228.3,700.5 1210.0,697.0C1191.7,693.5 1179.0,689.5 1167.0,682.0C1155.0,674.5 1145.2,665.7 1138.0,652.0C1130.8,638.3 1126.0,625.3 1124.0,600.0C1122.0,574.7 1126.3,524.2 1126.0,500.0C1125.7,475.8 1126.3,467.0 1122.0,455.0C1117.7,443.0 1112.0,433.8 1100.0,428.0C1088.0,422.2 1069.5,419.7 1050.0,420.0C1030.5,420.3 1002.7,426.0 983.0,430.0C963.3,434.0 940.5,441.7 932.0,444.0" fill="none" stroke="#92d050" stroke-width="22" opacity="0.6" filter="url(#bl5)"/>
<path d="M970,418L928,445L973,461" fill="none" stroke="#92d050" stroke-width="20" opacity="0.5" filter="url(#bl5)"/>
<path d="M1342.0,633.0C1341.2,638.7 1341.2,657.0 1337.0,667.0C1332.8,677.0 1327.0,687.0 1317.0,693.0C1307.0,699.0 1294.8,702.3 1277.0,703.0C1259.2,703.7 1228.3,700.5 1210.0,697.0C1191.7,693.5 1179.0,689.5 1167.0,682.0C1155.0,674.5 1145.2,665.7 1138.0,652.0C1130.8,638.3 1126.0,625.3 1124.0,600.0C1122.0,574.7 1126.3,524.2 1126.0,500.0C1125.7,475.8 1126.3,467.0 1122.0,455.0C1117.7,443.0 1112.0,433.8 1100.0,428.0C1088.0,422.2 1069.5,419.7 1050.0,420.0C1030.5,420.3 1002.7,426.0 983.0,430.0C963.3,434.0 940.5,441.7 932.0,444.0" fill="none" stroke="#548235" stroke-width="10.5" stroke-linecap="round"/>
<path d="M965.6,420.8 L928.0,445.0 L968.1,459.2" fill="none" stroke="#548235" stroke-width="10.5" stroke-linecap="round" stroke-linejoin="round" stroke-miterlimit="6" />
<rect x="646.0" y="165.0" width="117.0" height="66.0" fill="#e7e6e6"/>
<text x="655.0" y="215.0" font-size="48.0" font-weight="bold" fill="#000" text-anchor="start" font-family="Liberation Sans, Arial, sans-serif">H<tspan font-size="33.6" dy="12.5">2</tspan><tspan dy="-12.5">O</tspan></text>
<rect x="957.0" y="315.0" width="87.0" height="64.0" fill="#e7e6e6"/>
<text x="965.0" y="365.0" font-size="48.0" font-weight="bold" fill="#000" text-anchor="start" font-family="Liberation Sans, Arial, sans-serif">H<tspan font-size="33.6" dy="-15.4">+</tspan><tspan dy="15.4"></tspan></text>
<rect x="646.0" y="613.0" width="83.0" height="65.0" fill="#e7e6e6"/>
<text x="656.0" y="663.0" font-size="48.0" font-weight="bold" fill="#000" text-anchor="start" font-family="Liberation Sans, Arial, sans-serif">O<tspan font-size="33.6" dy="12.5">2</tspan><tspan dy="-12.5"></tspan></text>
<rect x="713.0" y="722.0" width="69.0" height="68.0" fill="#fbfbfb"/>
<text x="723.0" y="772.0" font-size="48.0" font-weight="bold" fill="#000" text-anchor="start" font-family="Liberation Sans, Arial, sans-serif">e<tspan font-size="33.6" dy="-15.4">-</tspan><tspan dy="15.4"></tspan></text>
<rect x="1496.0" y="492.0" width="88.0" height="66.0" fill="#e7e6e6"/>
<text x="1506.0" y="543.0" font-size="48.0" font-weight="bold" fill="#000" text-anchor="start" font-family="Liberation Sans, Arial, sans-serif">H<tspan font-size="33.6" dy="12.5">2</tspan><tspan dy="-12.5"></tspan></text>
<rect x="1515.0" y="635.0" width="68.0" height="67.0" fill="#e7e6e6"/>
<text x="1524.0" y="686.0" font-size="48.0" font-weight="bold" fill="#000" text-anchor="start" font-family="Liberation Sans, Arial, sans-serif">e<tspan font-size="33.6" dy="-15.4">-</tspan><tspan dy="15.4"></tspan></text>
<rect x="591.0" y="1002.0" width="154.0" height="87.0" fill="#e7e6e6"/>
<text x="668.0" y="1071.0" font-size="64.0" font-weight="normal" fill="#000" text-anchor="middle" font-family="Liberation Sans, Arial, sans-serif">GDL</text>
<rect x="846.0" y="1002.0" width="172.0" height="87.0" fill="#e7e6e6"/>
<text x="921.0" y="1071.0" font-size="65.0" font-weight="normal" fill="#000" text-anchor="middle" font-family="Liberation Sans, Arial, sans-serif">CCL</text>
<rect x="1243.0" y="1002.0" width="154.0" height="87.0" fill="#e7e6e6"/>
<text x="1316.0" y="1071.0" font-size="66.0" font-weight="normal" fill="#000" text-anchor="middle" font-family="Liberation Sans, Arial, sans-serif">ACL</text>
<text x="34.0" y="124.0" font-size="118.0" font-weight="bold" fill="#000" text-anchor="start" font-family="Liberation Sans, Arial, sans-serif">a</text>
<text x="32.0" y="1373.0" font-size="117.0" font-weight="bold" fill="#000" text-anchor="start" font-family="Liberation Sans, Arial, sans-serif">b</text>
<rect x="135" y="1264" width="868" height="113" fill="#e2f0d9"/>
<text x="570.0" y="1346.0" font-size="68.0" font-weight="bold" fill="#000" text-anchor="middle" font-family="Liberation Sans, Arial, sans-serif">Bulk oxygen transport</text>
<rect x="1138" y="1263" width="867" height="113" fill="#e2f0d9"/>
<text x="1572.0" y="1346.0" font-size="68.0" font-weight="bold" fill="#000" text-anchor="middle" font-family="Liberation Sans, Arial, sans-serif">Local oxygen transport</text>
<g filter="url(#bl9)" fill="none" stroke="#a4dc74" stroke-linecap="round" stroke-linejoin="round" opacity="0.82">
<path d="M501.0,1521.0C506.7,1525.0 526.4,1534.2 535.0,1545.0C543.6,1555.8 549.6,1570.5 552.5,1586.0C555.4,1601.5 555.4,1624.8 552.5,1638.0C549.6,1651.2 543.1,1658.2 535.0,1665.0C526.9,1671.8 509.2,1676.7 504.0,1679.0" stroke-width="26" opacity="0.85"/>
<path d="M404.5,1693.0C398.8,1698.2 377.8,1711.5 370.0,1724.0C362.2,1736.5 358.8,1753.7 358.0,1768.0C357.2,1782.3 362.7,1798.3 365.0,1810.0C367.3,1821.7 374.5,1830.3 372.0,1838.0C369.5,1845.7 359.5,1851.0 350.0,1856.0C340.5,1861.0 325.3,1862.3 315.0,1868.0C304.7,1873.7 294.8,1879.7 288.0,1890.0C281.2,1900.3 275.7,1914.7 274.0,1930.0C272.3,1945.3 272.3,1968.3 278.0,1982.0C283.7,1995.7 293.8,2006.0 308.0,2012.0C322.2,2018.0 346.0,2018.7 363.0,2018.0C380.0,2017.3 402.2,2009.7 410.0,2008.0" stroke-width="34" opacity="1.00"/>
<path d="M596.0,1712.0C606.0,1704.2 637.5,1675.7 656.0,1665.0C674.5,1654.3 687.0,1650.3 707.0,1648.0C727.0,1645.7 757.6,1645.8 776.0,1651.0C794.4,1656.2 808.8,1666.8 817.5,1679.0C826.2,1691.2 829.1,1708.0 828.0,1724.0C826.9,1740.0 819.3,1761.8 810.6,1775.0C801.9,1788.2 788.6,1796.0 776.0,1803.0C763.4,1810.0 741.8,1814.7 735.0,1817.0" stroke-width="34" opacity="1.00"/>
<path d="M600.0,1862.0C606.7,1861.3 625.0,1860.0 640.0,1858.0C655.0,1856.0 681.7,1851.3 690.0,1850.0" stroke-width="24" opacity="0.80"/>
<path d="M473.0,2030.0C477.7,2035.0 489.8,2053.3 501.0,2060.0C512.2,2066.7 522.8,2071.0 540.0,2070.0C557.2,2069.0 584.7,2059.5 604.0,2054.0C623.3,2048.5 637.2,2042.7 655.7,2037.0C674.2,2031.3 705.1,2022.8 715.0,2020.0" stroke-width="40" opacity="1.00"/>
<path d="M700.0,1990.0C703.7,1985.0 718.3,1965.0 722.0,1960.0" stroke-width="24" opacity="0.70"/>
</g>
<use href="#ss" x="464.0" y="1608.0"/>
<use href="#ss" x="441.0" y="1760.0"/>
<use href="#ss" x="429.0" y="1872.0"/>
<use href="#ss" x="350.0" y="1949.0"/>
<use href="#ss" x="654.0" y="1782.0"/>
<use href="#ss" x="737.0" y="1724.0"/>
<use href="#ss" x="795.0" y="1879.0"/>
<use href="#ss" x="649.0" y="1932.0"/>
<use href="#ss" x="551.0" y="1987.0"/>
<g fill="none" stroke="#e8f8e0" stroke-width="1.6" opacity="0.9">
<path d="M501.0,1521.0C506.7,1525.0 526.4,1534.2 535.0,1545.0C543.6,1555.8 549.6,1570.5 552.5,1586.0C555.4,1601.5 555.4,1624.8 552.5,1638.0C549.6,1651.2 543.1,1658.2 535.0,1665.0C526.9,1671.8 509.2,1676.7 504.0,1679.0"/>
<path d="M404.5,1693.0C398.8,1698.2 377.4,1711.5 370.0,1724.0C362.6,1736.5 360.5,1753.7 360.0,1768.0C359.5,1782.3 364.2,1798.7 367.0,1810.0C369.8,1821.3 376.8,1828.0 377.0,1836.0C377.2,1844.0 374.2,1853.7 368.0,1858.0C361.8,1862.3 346.5,1861.5 340.0,1862.0C333.5,1862.5 336.7,1858.2 329.0,1861.0C321.3,1863.8 302.7,1867.0 294.0,1878.5C285.3,1890.0 279.2,1912.8 277.0,1930.0C274.8,1947.2 275.2,1968.8 281.0,1982.0C286.8,1995.2 298.3,2003.8 312.0,2009.0C325.7,2014.2 348.7,2013.5 363.0,2013.0C377.3,2012.5 392.2,2007.2 398.0,2006.0"/>
<path d="M604.0,1706.0C612.7,1699.2 638.8,1674.7 656.0,1665.0C673.2,1655.3 687.0,1650.3 707.0,1648.0C727.0,1645.7 757.6,1645.8 776.0,1651.0C794.4,1656.2 808.8,1666.8 817.5,1679.0C826.2,1691.2 829.1,1708.0 828.0,1724.0C826.9,1740.0 819.3,1761.8 810.6,1775.0C801.9,1788.2 788.6,1796.0 776.0,1803.0C763.4,1810.0 741.8,1814.7 735.0,1817.0"/>
<path d="M473.0,2016.0C477.7,2022.9 490.7,2048.8 501.0,2057.5C511.3,2066.2 517.8,2069.2 535.0,2068.0C552.2,2066.8 583.9,2055.8 604.0,2050.6C624.1,2045.4 638.5,2041.6 655.7,2037.0C672.9,2032.4 698.5,2025.3 707.0,2023.0"/>
</g>
<path d="M629.0,1392.0C629.0,1401.7 629.0,1431.3 629.0,1450.0C629.0,1468.7 629.7,1487.0 629.0,1504.0C628.3,1521.0 628.5,1535.5 625.0,1552.0C621.5,1568.5 617.2,1585.8 608.0,1603.0C598.8,1620.2 581.0,1637.8 570.0,1655.0C559.0,1672.2 548.3,1688.8 542.0,1706.0C535.7,1723.2 533.7,1742.3 532.0,1758.0C530.3,1773.7 529.8,1787.7 532.0,1800.0C534.2,1812.3 541.7,1824.7 545.0,1832.0C548.3,1839.3 550.4,1841.7 551.5,1843.6" fill="none" stroke="#ff0000" stroke-width="15.5" stroke-linecap="butt" />
<path d="M503.5,1830.6 L551.5,1843.6 L535.4,1800.0" fill="none" stroke="#ff0000" stroke-width="15.5" stroke-linecap="round" stroke-linejoin="miter" stroke-miterlimit="6" />
<path d="M819,1541L763.6,1580.3L773.2,1592.3Z" fill="#548235"/>
<path d="M770.0,1585.0C761.7,1591.7 739.0,1609.3 720.0,1625.0C701.0,1640.7 674.3,1664.5 656.0,1679.0C637.7,1693.5 621.8,1703.8 610.0,1712.0C598.2,1720.2 591.0,1721.7 585.0,1728.0C579.0,1734.3 575.7,1739.7 574.0,1750.0C572.3,1760.3 574.0,1778.3 575.0,1790.0C576.0,1801.7 578.8,1811.6 580.0,1820.0C581.2,1828.4 582.1,1836.9 582.5,1840.3" fill="none" stroke="#548235" stroke-width="15.5" stroke-linecap="butt" />
<path d="M543.9,1807.2 L582.5,1840.3 L583.1,1790.6" fill="none" stroke="#548235" stroke-width="15.5" stroke-linecap="round" stroke-linejoin="miter" stroke-miterlimit="6" />
<path d="M573.0,1865.0C567.5,1869.5 552.0,1882.3 540.0,1892.0C528.0,1901.7 511.8,1913.3 501.0,1923.0C490.2,1932.7 483.0,1940.2 475.0,1950.0C467.0,1959.8 458.8,1971.2 453.0,1982.0C447.2,1992.8 443.5,2005.4 440.0,2015.0C436.5,2024.6 433.3,2035.4 432.0,2039.5" fill="none" stroke="#7030a0" stroke-width="15.5" stroke-linecap="butt" />
<path d="M411.2,1990.1 L432.0,2039.5 L458.4,1992.9" fill="none" stroke="#7030a0" stroke-width="15.5" stroke-linecap="round" stroke-linejoin="miter" stroke-miterlimit="6" />
<path d="M326,1863L254,1720" fill="none" stroke="#4472c4" stroke-width="2"/>
<path d="M243,1698L265.3,1714.8L242.7,1726Z" fill="#4472c4"/>
<text x="694.0" y="1497.0" font-size="58.0" font-weight="bold" fill="#000" text-anchor="start" font-family="Liberation Sans, Arial, sans-serif">O<tspan font-size="40.6" dy="15.1">2</tspan><tspan dy="-15.1"></tspan></text>
<text x="846.0" y="1596.0" font-size="58.0" font-weight="bold" fill="#000" text-anchor="start" font-family="Liberation Sans, Arial, sans-serif">H<tspan font-size="40.6" dy="-18.6">+</tspan><tspan dy="18.6"></tspan></text>
<text x="75.0" y="1664.5" font-size="58.6" font-weight="bold" fill="#000" text-anchor="start" font-family="Liberation Sans, Arial, sans-serif">Ionomer</text>
<text x="75.0" y="1737.0" font-size="58.6" font-weight="bold" fill="#000" text-anchor="start" font-family="Liberation Sans, Arial, sans-serif">film</text>
<text x="262.0" y="2107.0" font-size="58.0" font-weight="bold" fill="#000" text-anchor="start" font-family="Liberation Sans, Arial, sans-serif">H<tspan font-size="40.6" dy="15.1">2</tspan><tspan dy="-15.1">O</tspan></text>
<path d="M1096,1903 C1150,1845 1250,1795 1380,1777 C1412,1772 1412,1742 1424,1716 C1440,1680 1482,1661 1536,1661 C1588,1661 1626,1680 1640,1722 C1650,1752 1658,1768 1700,1776 C1830,1798 1965,1845 2028,1898" fill="none" stroke="#9fd868" stroke-width="34" opacity="0.7" filter="url(#bl9)" stroke-linecap="round"/>
<path d="M1096,1903 C1150,1845 1250,1795 1380,1777 C1412,1772 1412,1742 1424,1716 C1440,1680 1482,1661 1536,1661 C1588,1661 1626,1680 1640,1722 C1650,1752 1658,1768 1700,1776 C1830,1798 1965,1845 2028,1898" fill="none" stroke="#f0fbe8" stroke-width="1.6" opacity="0.9"/>
<clipPath id="cdome"><rect x="1090" y="1700" width="960" height="258"/></clipPath>
<clipPath id="cdome2"><ellipse cx="1565" cy="2020" rx="470" ry="250"/></clipPath>
<g clip-path="url(#cdome)"><ellipse cx="1565" cy="2020" rx="470" ry="250" fill="#4a7fd2"/>
<g clip-path="url(#cdome2)">
<ellipse cx="1565" cy="2020" rx="470" ry="250" fill="none" stroke="#20447c" stroke-width="14" opacity="0.55" filter="url(#bl5)"/>
<ellipse cx="1565" cy="2046" rx="452" ry="250" fill="none" stroke="#9cc4f8" stroke-width="22" opacity="0.9" filter="url(#bl9)"/>
<rect x="1090" y="1935" width="960" height="40" fill="#3b68b4" opacity="0.55" filter="url(#bl9)"/>
</g>
<ellipse cx="1565" cy="2020" rx="470" ry="250" fill="none" stroke="#2a4f8f" stroke-width="2"/></g>
<path d="M1433,1778 A98,96 0 0 1 1629,1778 Q1531,1768 1433,1778Z" fill="#000" stroke="#2f5597" stroke-width="2.5"/>
<text x="1540.0" y="1763.0" font-size="66.0" font-weight="bold" fill="#fff" text-anchor="middle" font-family="Liberation Sans, Arial, sans-serif">Pt</text>
<text x="1551.5" y="1903.0" font-size="66.0" font-weight="bold" fill="#000" text-anchor="middle" font-family="Liberation Sans, Arial, sans-serif">Carbon</text>
<path d="M1113.0,1591.0C1127.5,1591.0 1170.2,1590.8 1200.0,1591.0C1229.8,1591.2 1267.0,1590.5 1292.0,1592.0C1317.0,1593.5 1332.0,1595.7 1350.0,1600.0C1368.0,1604.3 1385.0,1610.5 1400.0,1618.0C1415.0,1625.5 1428.3,1635.3 1440.0,1645.0C1451.7,1654.7 1465.2,1671.0 1470.3,1676.1" fill="none" stroke="#ff0000" stroke-width="15.5" stroke-linecap="butt" />
<path d="M1421.6,1661.8 L1470.3,1676.1 L1452.5,1629.0" fill="none" stroke="#ff0000" stroke-width="15.5" stroke-linecap="round" stroke-linejoin="miter" stroke-miterlimit="6" />
<path d="M1303.0,1444.0C1309.2,1447.0 1327.2,1455.7 1340.0,1462.0C1352.8,1468.3 1366.7,1474.8 1380.0,1482.0C1393.3,1489.2 1407.7,1497.0 1420.0,1505.0C1432.3,1513.0 1443.2,1520.8 1454.0,1530.0C1464.8,1539.2 1476.0,1550.0 1485.0,1560.0C1494.0,1570.0 1501.7,1579.7 1508.0,1590.0C1514.3,1600.3 1519.3,1612.0 1523.0,1622.0C1526.7,1632.0 1528.5,1644.1 1530.0,1650.0C1531.5,1655.9 1531.5,1656.0 1531.8,1657.2" fill="none" stroke="#548235" stroke-width="15.5" stroke-linecap="butt" />
<path d="M1508.5,1613.2 L1531.8,1657.2 L1555.6,1610.4" fill="none" stroke="#548235" stroke-width="15.5" stroke-linecap="round" stroke-linejoin="miter" stroke-miterlimit="6" />
<path d="M1546.0,1687.0C1556.7,1679.2 1585.7,1655.2 1610.0,1640.0C1634.3,1624.8 1668.7,1607.0 1692.0,1596.0C1715.3,1585.0 1731.0,1580.3 1750.0,1574.0C1769.0,1567.7 1784.3,1562.8 1806.0,1558.0C1827.7,1553.2 1857.0,1547.9 1880.0,1545.0C1903.0,1542.1 1933.4,1541.5 1944.1,1540.8" fill="none" stroke="#7030a0" stroke-width="15.5" stroke-linecap="butt" />
<path d="M1901.2,1523.1 L1944.1,1540.8 L1908.8,1566.2" fill="none" stroke="#7030a0" stroke-width="15.5" stroke-linecap="round" stroke-linejoin="miter" stroke-miterlimit="6" />
<text x="1406.0" y="1467.0" font-size="58.0" font-weight="bold" fill="#000" text-anchor="start" font-family="Liberation Sans, Arial, sans-serif">H<tspan font-size="40.6" dy="-18.6">+</tspan><tspan dy="18.6"></tspan></text>
<text x="1689.0" y="1518.0" font-size="58.0" font-weight="bold" fill="#000" text-anchor="start" font-family="Liberation Sans, Arial, sans-serif">H<tspan font-size="40.6" dy="15.1">2</tspan><tspan dy="-15.1">O</tspan></text>
<text x="1212.0" y="1688.0" font-size="58.0" font-weight="bold" fill="#000" text-anchor="start" font-family="Liberation Sans, Arial, sans-serif">O<tspan font-size="40.6" dy="15.1">2</tspan><tspan dy="-15.1"></tspan></text>
<text x="1582.0" y="2062.0" font-size="60.0" font-weight="bold" fill="#000" text-anchor="middle" font-family="Liberation Sans, Arial, sans-serif">“gas/ionomer/catalyst”</text>
<text x="1579.0" y="2133.5" font-size="59.6" font-weight="bold" fill="#000" text-anchor="middle" font-family="Liberation Sans, Arial, sans-serif">triple phase boundary</text>
</svg>
</body></html>
